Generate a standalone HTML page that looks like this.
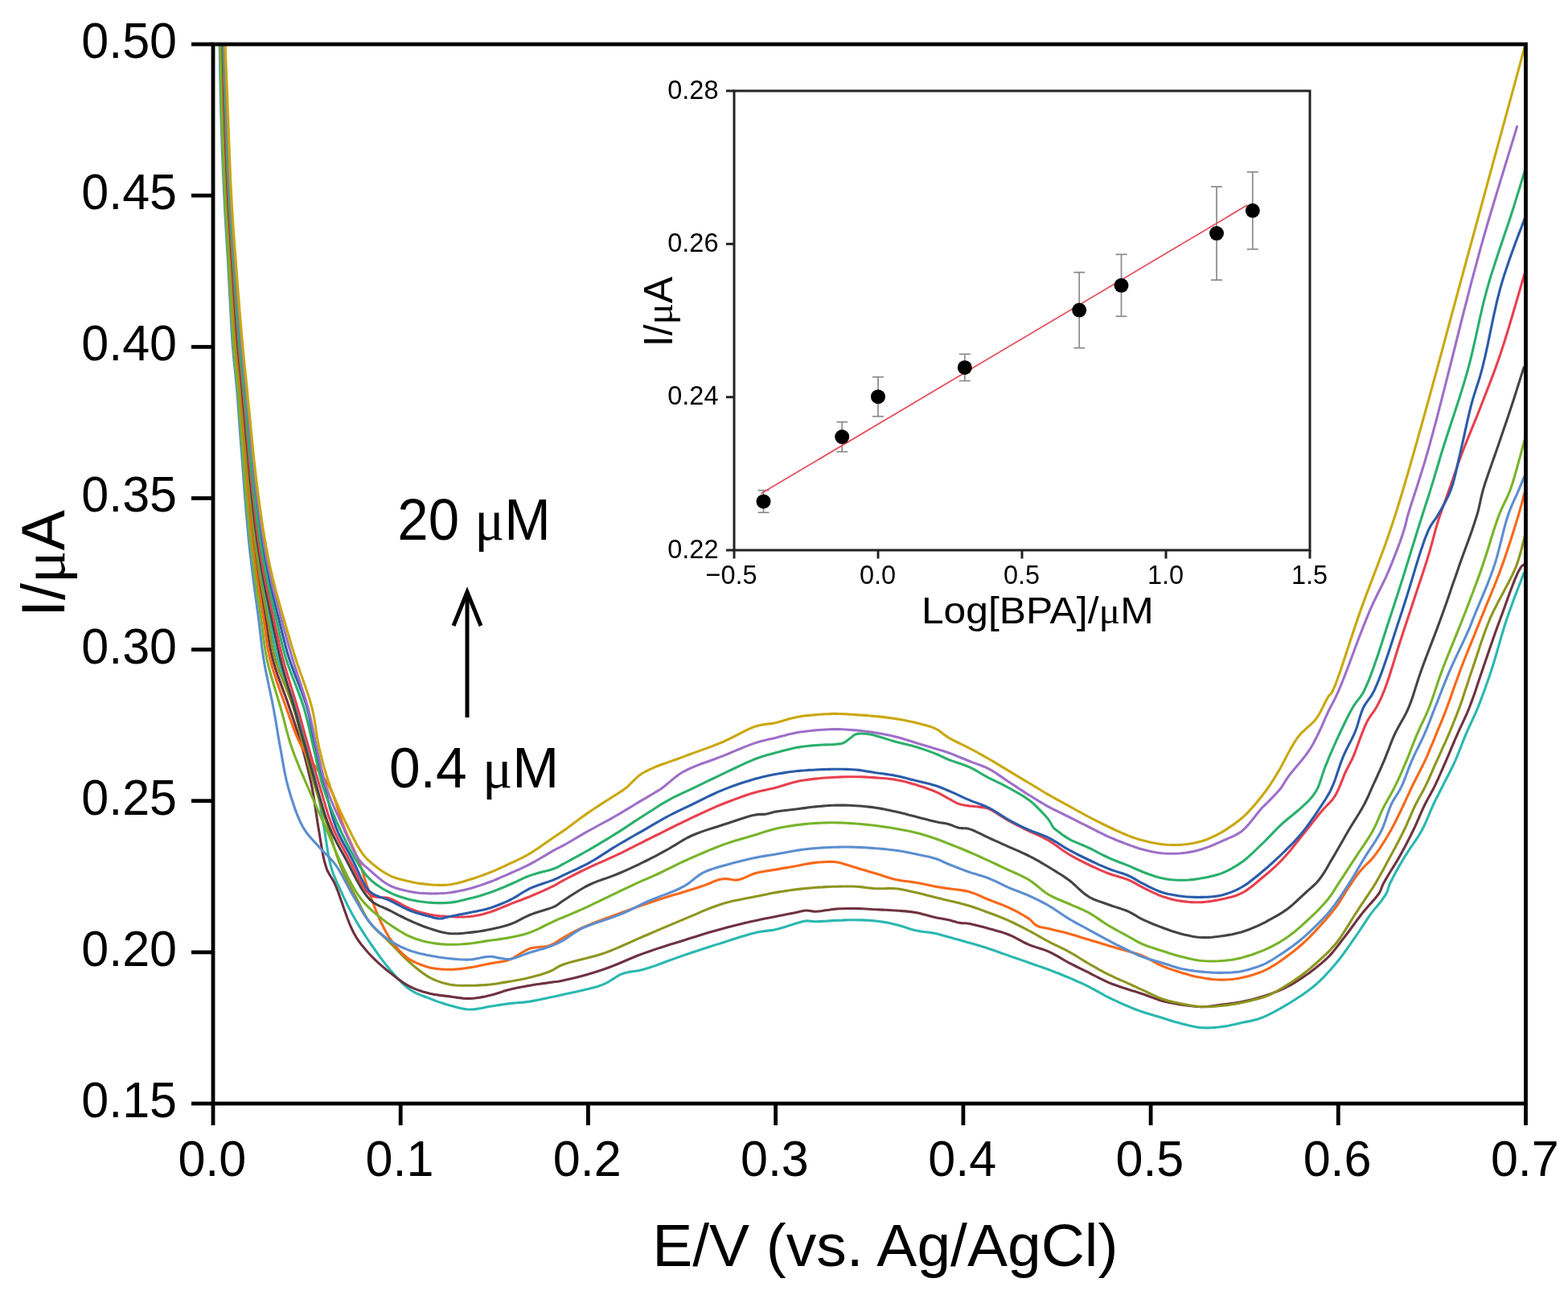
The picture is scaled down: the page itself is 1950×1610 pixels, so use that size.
<!DOCTYPE html>
<html><head><meta charset="utf-8"><title>BPA DPV</title>
<style>html,body{margin:0;padding:0;background:#fff;width:1950px;height:1610px;overflow:hidden}svg{display:block}</style>
</head><body>
<svg width="1950" height="1610" viewBox="0 0 1950 1610">
<rect x="0" y="0" width="1950" height="1610" fill="#ffffff"/>
<defs><clipPath id="pc"><rect x="265.0" y="55.0" width="1632.5" height="1317.0"/></clipPath></defs>
<g clip-path="url(#pc)" fill="none" stroke-width="3.1" stroke-linejoin="round" stroke-linecap="round">
<path stroke="#2AB8B0" d="M275.3 20.0L275.4 25.6 275.6 31.0 275.7 36.4 275.8 42.1 276.0 48.2 276.2 55.0 276.5 68.1 276.9 83.0 277.4 99.3 277.8 116.1 278.3 132.9 278.9 149.0 279.4 164.2 279.9 179.3 280.5 194.4 281.1 209.4 281.8 224.6 282.5 240.0 283.4 256.3 284.4 272.9 285.4 289.5 286.5 306.2 287.6 322.7 288.6 339.0 289.6 354.7 290.7 370.6 291.7 386.4 292.7 401.8 293.7 416.4 294.8 430.0 295.6 439.2 296.4 447.8 297.3 456.0 298.1 463.9 299.0 471.9 299.7 480.0 300.5 488.2 301.2 496.3 301.9 504.5 302.6 512.6 303.3 520.8 304.0 529.0 304.7 537.4 305.4 545.8 306.1 554.3 306.9 562.7 307.6 570.9 308.3 579.0 308.9 586.0 309.6 592.8 310.2 599.5 310.9 606.2 311.6 613.0 312.3 620.0 313.1 628.1 314.0 636.3 314.9 644.7 315.9 653.2 316.9 661.6 318.0 670.0 319.1 678.2 320.3 686.4 321.5 694.5 322.8 702.7 324.1 710.8 325.5 719.0 327.0 727.3 328.6 735.6 330.3 744.0 332.0 752.3 333.7 760.7 335.3 769.0 336.9 777.3 338.3 785.5 339.7 793.8 341.3 802.1 343.1 810.4 345.4 819.0 348.5 829.0 352.3 839.2 356.4 849.5 360.6 859.9 364.5 870.1 368.0 880.0 370.7 888.6 373.2 897.0 375.5 905.3 377.7 913.5 379.8 921.7 382.0 930.0 384.1 938.2 386.2 946.3 388.3 954.5 390.3 962.6 392.2 970.8 394.0 979.0 395.7 987.3 397.2 995.6 398.7 1004.0 400.1 1012.3 401.5 1020.7 403.0 1029.0 404.4 1037.5 405.7 1046.1 407.0 1054.7 408.4 1063.2 410.1 1071.2 412.0 1078.8 413.8 1084.5 415.9 1089.9 418.1 1095.0 420.3 1100.0 422.7 1105.0 425.0 1110.0 427.3 1115.1 429.7 1120.1 432.1 1125.1 434.6 1130.0 437.3 1135.0 440.0 1140.0 443.0 1145.3 446.2 1150.6 449.5 1155.9 452.9 1161.2 456.4 1166.5 460.0 1171.8 463.9 1177.5 467.9 1183.2 472.0 1189.0 476.2 1194.6 480.5 1200.1 484.8 1205.3 488.8 1209.9 492.8 1214.5 496.9 1218.9 501.1 1223.1 505.3 1226.9 509.7 1230.2 513.7 1232.7 517.7 1234.8 521.9 1236.6 526.1 1238.2 530.3 1239.8 534.5 1241.4 538.6 1243.0 542.7 1244.6 546.9 1246.1 551.1 1247.5 555.2 1248.8 559.4 1250.0 563.5 1251.1 567.6 1252.2 571.8 1253.3 575.9 1254.1 580.1 1254.7 584.2 1255.0 588.3 1254.9 592.5 1254.4 596.6 1253.7 600.8 1252.9 605.0 1252.0 609.1 1251.3 613.2 1250.7 617.4 1250.0 621.5 1249.4 625.6 1248.7 629.8 1248.1 633.9 1247.6 638.0 1247.1 642.2 1246.8 646.4 1246.4 650.5 1246.1 654.7 1245.6 658.8 1245.1 663.0 1244.4 667.3 1243.6 671.5 1242.7 675.7 1241.8 679.8 1240.9 683.6 1240.1 686.4 1239.5 689.0 1239.0 691.5 1238.4 694.0 1237.9 696.8 1237.2 700.0 1236.5 707.0 1235.0 715.3 1233.2 724.3 1231.2 733.5 1229.0 742.2 1226.7 749.7 1224.1 754.4 1221.9 758.7 1219.5 762.7 1216.9 766.5 1214.5 770.4 1212.2 774.5 1210.4 778.5 1209.2 782.4 1208.4 786.4 1207.8 790.5 1207.3 794.8 1206.6 799.4 1205.5 806.7 1203.3 814.8 1200.6 823.2 1197.5 831.9 1194.3 840.6 1191.1 849.1 1188.1 857.4 1185.3 865.8 1182.5 874.2 1179.8 882.6 1177.1 890.8 1174.4 898.8 1171.9 906.0 1169.6 913.2 1167.3 920.2 1165.0 927.1 1162.9 933.7 1161.0 940.0 1159.4 944.5 1158.5 948.7 1157.9 952.8 1157.4 956.8 1156.9 960.8 1156.4 964.8 1155.6 969.1 1154.5 973.4 1153.2 977.8 1151.9 982.0 1150.5 986.1 1149.2 989.7 1148.1 992.0 1147.4 994.1 1146.8 996.1 1146.2 998.0 1145.7 1000.0 1145.3 1002.0 1145.0 1004.0 1144.9 1006.0 1145.0 1008.0 1145.2 1010.0 1145.4 1012.2 1145.6 1014.5 1145.7 1018.2 1145.6 1022.2 1145.4 1026.4 1145.2 1030.8 1144.9 1035.2 1144.6 1039.4 1144.4 1043.5 1144.2 1047.7 1144.1 1051.8 1143.9 1055.9 1143.8 1060.1 1143.8 1064.2 1143.8 1068.4 1143.9 1072.5 1143.9 1076.7 1144.1 1080.8 1144.3 1085.0 1144.6 1089.1 1145.0 1093.2 1145.5 1097.4 1146.1 1101.5 1146.8 1105.7 1147.6 1109.8 1148.5 1113.9 1149.4 1118.1 1150.5 1122.2 1151.8 1126.3 1153.1 1130.5 1154.5 1134.6 1155.7 1138.8 1156.8 1143.0 1157.6 1147.2 1158.3 1151.5 1158.8 1155.7 1159.3 1159.8 1159.9 1163.6 1160.6 1166.5 1161.3 1169.2 1161.9 1171.8 1162.7 1174.4 1163.4 1177.1 1164.2 1180.0 1165.0 1183.8 1166.0 1187.9 1167.2 1192.1 1168.3 1196.3 1169.5 1200.6 1170.7 1204.8 1171.9 1209.0 1173.1 1213.1 1174.3 1217.3 1175.5 1221.4 1176.8 1225.6 1178.1 1229.7 1179.4 1233.8 1180.8 1238.0 1182.2 1242.1 1183.7 1246.2 1185.2 1250.4 1186.6 1254.5 1188.1 1258.6 1189.6 1262.8 1191.0 1267.0 1192.4 1271.1 1193.9 1275.3 1195.3 1279.4 1196.8 1283.5 1198.2 1287.7 1199.7 1291.8 1201.1 1295.9 1202.5 1300.1 1204.0 1304.2 1205.5 1308.4 1207.1 1312.5 1208.7 1316.7 1210.3 1320.8 1212.0 1325.0 1213.7 1329.1 1215.4 1333.3 1217.2 1337.4 1219.0 1341.5 1220.8 1345.7 1222.7 1349.8 1224.6 1353.9 1226.6 1358.1 1228.8 1362.2 1231.1 1366.3 1233.4 1370.5 1235.7 1374.6 1238.0 1378.8 1240.2 1383.0 1242.2 1387.2 1244.2 1391.5 1246.2 1395.7 1248.0 1399.7 1249.8 1403.6 1251.4 1406.5 1252.6 1409.2 1253.7 1411.8 1254.7 1414.4 1255.7 1417.1 1256.7 1420.0 1257.7 1423.8 1259.0 1427.9 1260.2 1432.1 1261.5 1436.3 1262.8 1440.6 1264.0 1444.8 1265.3 1448.9 1266.6 1453.1 1267.9 1457.2 1269.2 1461.4 1270.4 1465.5 1271.6 1469.7 1272.7 1473.8 1273.7 1477.9 1274.8 1482.1 1275.7 1486.2 1276.6 1490.3 1277.3 1494.5 1277.7 1498.6 1277.9 1502.8 1277.9 1506.9 1277.7 1511.1 1277.4 1515.3 1277.0 1519.4 1276.5 1523.6 1275.9 1527.7 1275.2 1531.8 1274.3 1535.9 1273.4 1540.1 1272.4 1544.2 1271.5 1548.3 1270.6 1552.3 1269.9 1556.3 1269.0 1560.4 1268.1 1564.6 1266.9 1569.1 1265.3 1575.9 1262.3 1583.4 1258.6 1591.2 1254.4 1598.9 1249.9 1606.2 1245.5 1612.8 1241.3 1617.4 1238.3 1621.7 1235.4 1625.7 1232.6 1629.6 1229.6 1633.5 1226.5 1637.4 1223.2 1641.6 1219.3 1645.8 1215.2 1649.9 1210.8 1654.0 1206.3 1658.0 1201.7 1662.0 1197.0 1666.3 1191.7 1670.6 1186.0 1674.8 1180.2 1678.9 1174.4 1682.8 1168.7 1686.6 1163.3 1689.5 1159.0 1692.3 1154.9 1694.9 1150.8 1697.5 1146.8 1700.2 1142.8 1703.0 1138.7 1706.4 1134.1 1710.2 1129.4 1714.1 1124.7 1717.8 1120.1 1721.0 1115.7 1723.6 1111.6 1724.8 1109.3 1725.6 1107.1 1726.2 1105.1 1726.8 1103.1 1727.6 1100.9 1728.6 1098.4 1730.9 1093.7 1733.6 1088.5 1736.7 1082.8 1739.9 1077.0 1743.3 1071.2 1746.6 1065.6 1750.1 1060.1 1753.7 1054.7 1757.5 1049.2 1761.2 1043.8 1764.8 1038.3 1768.0 1032.8 1770.8 1027.3 1773.4 1021.7 1775.8 1016.0 1778.1 1010.5 1780.4 1005.1 1782.7 1000.0 1784.5 996.2 1786.3 992.6 1788.0 989.2 1789.8 985.8 1791.6 982.2 1793.5 978.4 1796.1 973.3 1798.8 968.0 1801.7 962.5 1804.5 956.8 1807.3 951.2 1809.9 945.6 1812.2 940.2 1814.4 934.7 1816.5 929.2 1818.6 923.7 1820.8 918.3 1823.0 912.8 1825.4 907.4 1827.8 902.1 1830.3 896.8 1832.8 891.4 1835.3 885.8 1837.8 880.0 1840.6 872.9 1843.4 865.5 1846.2 857.9 1849.0 850.1 1851.8 842.0 1854.6 833.7 1857.8 823.5 1861.0 812.8 1864.1 801.8 1867.3 790.8 1870.6 779.8 1874.0 769.2 1877.4 759.5 1880.8 750.0 1884.3 740.6 1887.9 731.3 1891.5 722.0 1895.0 712.6"/>
<path stroke="#6E3240" d="M274.2 20.0L274.3 25.6 274.4 31.0 274.6 36.4 274.7 42.1 274.9 48.2 275.1 55.0 275.4 68.1 275.7 83.0 276.1 99.3 276.5 116.1 277.0 132.9 277.5 149.0 278.0 164.2 278.5 179.3 279.1 194.4 279.7 209.4 280.4 224.6 281.1 240.0 282.0 256.3 282.9 272.8 283.9 289.5 285.0 306.2 286.0 322.7 287.0 339.0 288.0 354.7 288.9 370.6 289.8 386.4 290.8 401.8 291.8 416.4 292.8 430.0 293.6 439.2 294.4 447.8 295.3 456.0 296.1 463.9 296.9 471.9 297.7 480.0 298.4 488.2 299.1 496.3 299.8 504.5 300.4 512.6 301.1 520.8 301.8 529.0 302.5 537.4 303.1 545.8 303.8 554.3 304.5 562.7 305.2 570.9 305.9 579.0 306.5 586.0 307.1 592.8 307.7 599.5 308.3 606.2 308.9 613.0 309.6 620.0 310.3 628.1 311.2 636.3 312.0 644.7 312.9 653.2 313.8 661.6 314.8 670.0 315.8 678.2 316.9 686.4 318.0 694.5 319.2 702.7 320.4 710.8 321.6 719.0 323.0 727.3 324.4 735.6 325.9 744.0 327.4 752.3 328.9 760.7 330.3 769.0 331.7 777.3 332.9 785.5 334.1 793.8 335.4 802.0 337.0 810.4 339.0 819.0 341.8 829.0 345.2 839.2 349.0 849.6 352.8 859.9 356.6 870.1 360.0 880.0 362.9 888.6 365.7 897.0 368.4 905.3 371.1 913.5 373.6 921.7 376.0 930.0 378.3 938.2 380.4 946.3 382.5 954.4 384.4 962.6 386.3 970.8 388.0 979.0 389.5 987.3 390.9 995.6 392.1 1004.0 393.4 1012.3 394.6 1020.7 396.0 1029.0 397.4 1037.6 398.8 1046.5 400.3 1055.3 401.9 1063.9 403.7 1071.8 405.8 1078.8 407.4 1082.8 409.2 1086.2 411.0 1089.3 413.0 1092.5 415.0 1095.9 417.0 1100.0 420.4 1108.5 424.0 1118.7 427.8 1129.7 431.7 1140.8 435.8 1151.2 440.0 1160.0 443.1 1165.3 446.3 1170.1 449.5 1174.5 452.9 1178.6 456.4 1182.7 460.0 1186.7 463.8 1190.7 467.9 1194.6 472.0 1198.4 476.3 1202.1 480.5 1205.7 484.8 1209.1 488.9 1212.3 492.9 1215.5 497.1 1218.6 501.2 1221.5 505.4 1224.1 509.7 1226.5 513.7 1228.4 517.8 1230.1 522.0 1231.6 526.1 1232.9 530.3 1234.1 534.5 1235.2 538.6 1236.1 542.8 1236.8 546.9 1237.4 551.1 1237.9 555.2 1238.4 559.4 1238.9 563.5 1239.5 567.7 1240.1 571.8 1240.6 575.9 1241.1 580.1 1241.4 584.2 1241.4 588.4 1241.2 592.5 1240.7 596.7 1240.1 600.8 1239.4 605.0 1238.5 609.1 1237.6 613.3 1236.5 617.4 1235.3 621.5 1234.0 625.6 1232.6 629.8 1231.3 633.9 1230.2 638.0 1229.2 642.2 1228.3 646.3 1227.5 650.5 1226.7 654.6 1225.9 658.8 1225.2 663.0 1224.5 667.3 1223.8 671.5 1223.2 675.7 1222.6 679.8 1222.1 683.6 1221.5 686.4 1221.1 689.0 1220.8 691.5 1220.5 694.0 1220.2 696.8 1219.7 700.0 1219.1 706.8 1217.6 714.6 1215.7 723.3 1213.4 732.2 1210.9 741.2 1208.2 749.7 1205.5 758.0 1202.5 766.3 1199.2 774.6 1195.7 782.8 1192.2 791.1 1188.8 799.4 1185.6 807.6 1182.7 815.9 1179.9 824.2 1177.2 832.5 1174.6 840.8 1172.0 849.1 1169.4 857.4 1166.8 865.8 1164.2 874.2 1161.6 882.5 1159.1 890.8 1156.7 898.8 1154.5 906.0 1152.6 913.2 1150.7 920.3 1149.0 927.2 1147.3 933.8 1145.8 940.0 1144.4 944.5 1143.4 948.7 1142.5 952.8 1141.7 956.8 1141.0 960.7 1140.2 964.8 1139.4 969.0 1138.6 973.4 1137.7 977.8 1136.8 982.0 1136.0 986.1 1135.2 989.7 1134.5 992.0 1134.0 994.1 1133.5 996.1 1133.0 998.0 1132.5 1000.0 1132.2 1002.0 1132.0 1004.0 1132.0 1006.0 1132.2 1008.0 1132.5 1010.0 1132.9 1012.2 1133.1 1014.5 1133.2 1018.2 1133.0 1022.2 1132.5 1026.4 1131.8 1030.8 1131.2 1035.1 1130.5 1039.4 1130.1 1043.5 1129.8 1047.7 1129.7 1051.8 1129.5 1055.9 1129.5 1060.1 1129.5 1064.2 1129.5 1068.3 1129.6 1072.5 1129.8 1076.7 1130.0 1080.8 1130.2 1085.0 1130.5 1089.1 1130.7 1093.2 1130.9 1097.4 1131.1 1101.5 1131.3 1105.6 1131.5 1109.8 1131.7 1113.9 1132.0 1118.1 1132.3 1122.2 1132.6 1126.4 1132.9 1130.5 1133.4 1134.7 1133.9 1138.8 1134.5 1143.0 1135.3 1147.3 1136.4 1151.5 1137.5 1155.7 1138.7 1159.8 1139.8 1163.6 1140.7 1166.5 1141.3 1169.4 1141.8 1172.2 1142.3 1174.8 1142.8 1177.4 1143.3 1180.0 1143.8 1182.2 1144.3 1184.3 1144.9 1186.3 1145.5 1188.3 1146.1 1190.3 1146.7 1192.4 1147.1 1194.4 1147.4 1196.4 1147.6 1198.3 1147.7 1200.4 1147.8 1202.5 1148.0 1204.8 1148.3 1208.5 1149.0 1212.5 1149.9 1216.7 1151.0 1221.1 1152.1 1225.5 1153.3 1229.7 1154.5 1233.9 1155.6 1238.0 1156.7 1242.2 1157.9 1246.3 1159.1 1250.4 1160.5 1254.5 1162.0 1258.7 1163.8 1262.8 1165.9 1267.0 1168.1 1271.1 1170.4 1275.2 1172.5 1279.4 1174.4 1283.5 1176.0 1287.7 1177.4 1291.8 1178.7 1296.0 1180.0 1300.1 1181.4 1304.2 1183.1 1308.4 1185.1 1312.6 1187.4 1316.7 1189.7 1320.8 1192.1 1324.9 1194.5 1329.1 1196.8 1333.2 1198.9 1337.3 1201.0 1341.5 1203.1 1345.6 1205.1 1349.8 1207.1 1353.9 1209.2 1358.0 1211.3 1362.2 1213.5 1366.3 1215.6 1370.5 1217.7 1374.6 1219.7 1378.8 1221.6 1383.0 1223.3 1387.2 1224.8 1391.5 1226.3 1395.7 1227.7 1399.7 1229.0 1403.6 1230.3 1406.5 1231.2 1409.2 1232.1 1411.8 1232.8 1414.4 1233.6 1417.1 1234.5 1420.0 1235.4 1423.8 1236.8 1427.9 1238.3 1432.1 1239.9 1436.3 1241.4 1440.6 1242.9 1444.8 1244.2 1448.9 1245.3 1453.1 1246.2 1457.2 1247.0 1461.4 1247.8 1465.5 1248.5 1469.7 1249.1 1473.8 1249.7 1478.0 1250.3 1482.1 1250.8 1486.2 1251.2 1490.4 1251.5 1494.5 1251.6 1498.6 1251.5 1502.8 1251.2 1507.0 1250.7 1511.1 1250.2 1515.3 1249.6 1519.4 1249.1 1523.5 1248.6 1527.7 1248.0 1531.8 1247.5 1536.0 1246.9 1540.1 1246.2 1544.2 1245.4 1548.3 1244.6 1552.4 1243.7 1556.4 1242.8 1560.5 1241.7 1564.7 1240.6 1569.1 1239.2 1574.7 1237.4 1580.5 1235.4 1586.4 1233.2 1592.4 1230.7 1598.5 1228.0 1604.6 1224.8 1612.2 1220.3 1620.2 1215.1 1628.3 1209.4 1636.1 1203.5 1643.3 1197.6 1649.7 1192.0 1653.8 1187.9 1657.4 1183.9 1660.6 1179.9 1663.7 1175.9 1666.9 1171.7 1670.2 1167.4 1674.2 1162.2 1678.3 1156.7 1682.5 1151.0 1686.6 1145.3 1690.8 1139.8 1694.8 1134.6 1698.5 1130.2 1702.3 1125.8 1706.1 1121.6 1709.7 1117.5 1712.9 1113.6 1715.4 1110.0 1716.5 1108.0 1717.3 1106.1 1718.0 1104.3 1718.6 1102.5 1719.4 1100.6 1720.4 1098.4 1722.9 1093.9 1726.0 1088.7 1729.5 1083.0 1733.2 1077.2 1736.8 1071.3 1740.1 1065.6 1743.1 1060.2 1746.1 1054.7 1749.0 1049.3 1751.8 1043.8 1754.6 1038.3 1757.3 1032.8 1759.9 1027.3 1762.4 1021.6 1764.9 1016.0 1767.3 1010.4 1769.7 1005.1 1772.1 1000.0 1774.1 996.2 1776.0 992.6 1777.9 989.2 1779.8 985.8 1781.7 982.2 1783.7 978.4 1786.1 973.4 1788.6 968.0 1791.0 962.5 1793.5 956.8 1796.0 951.2 1798.4 945.6 1800.8 940.1 1803.1 934.7 1805.4 929.2 1807.7 923.7 1810.0 918.3 1812.4 912.8 1814.8 907.4 1817.3 902.1 1819.8 896.8 1822.3 891.4 1824.8 885.8 1827.2 880.0 1829.9 872.9 1832.6 865.5 1835.2 857.9 1837.8 850.0 1840.5 842.0 1843.3 833.7 1846.8 823.6 1850.4 813.0 1854.2 802.1 1858.0 791.1 1861.9 780.0 1865.9 769.2 1870.2 757.5 1874.8 744.6 1879.5 731.8 1884.0 720.1 1888.2 710.7 1891.8 704.6 1892.7 703.6 1893.6 702.9 1894.5 702.3 1895.3 701.9 1896.1 701.5 1897.0 701.0"/>
<path stroke="#8E9620" d="M274.7 20.0L274.9 25.6 275.0 31.0 275.1 36.4 275.3 42.1 275.4 48.2 275.6 55.0 276.0 68.1 276.3 83.0 276.7 99.3 277.2 116.1 277.7 132.9 278.2 149.0 278.7 164.2 279.2 179.3 279.8 194.4 280.4 209.4 281.1 224.6 281.8 240.0 282.7 256.3 283.6 272.8 284.7 289.5 285.7 306.2 286.8 322.7 287.8 339.0 288.8 354.7 289.8 370.6 290.8 386.4 291.7 401.8 292.8 416.4 293.8 430.0 294.6 439.2 295.4 447.8 296.3 456.0 297.1 463.9 298.0 471.9 298.7 480.0 299.5 488.2 300.2 496.3 300.8 504.5 301.5 512.6 302.2 520.8 302.9 529.0 303.6 537.4 304.3 545.8 305.0 554.3 305.7 562.7 306.4 570.9 307.1 579.0 307.7 586.0 308.3 592.8 308.9 599.5 309.6 606.2 310.2 613.0 310.9 620.0 311.7 628.1 312.6 636.3 313.5 644.7 314.4 653.2 315.4 661.6 316.4 670.0 317.5 678.2 318.6 686.4 319.8 694.5 321.0 702.7 322.3 710.8 323.6 719.0 325.0 727.3 326.5 735.6 328.1 744.0 329.7 752.3 331.3 760.7 332.8 769.0 334.3 777.3 335.6 785.5 336.9 793.8 338.3 802.1 340.0 810.5 342.2 819.0 345.3 829.0 349.1 839.2 353.3 849.5 357.6 859.9 361.5 870.1 365.0 880.0 367.6 888.6 369.8 897.0 371.9 905.3 373.8 913.5 375.8 921.8 378.0 930.0 380.3 938.2 382.5 946.4 384.8 954.5 387.2 962.7 389.6 970.8 392.0 979.0 394.6 987.3 397.2 995.6 399.8 1004.0 402.5 1012.3 405.3 1020.6 408.0 1029.0 410.7 1037.6 413.4 1046.2 416.1 1054.9 418.9 1063.5 421.9 1071.9 425.0 1080.0 428.1 1087.1 431.4 1094.1 434.9 1100.9 438.3 1107.5 441.7 1113.9 445.0 1120.0 447.5 1124.9 449.8 1129.6 452.1 1134.1 454.5 1138.5 457.1 1142.8 460.0 1147.0 463.6 1151.4 467.6 1155.6 471.8 1159.7 476.2 1163.7 480.6 1167.7 484.8 1171.8 488.9 1176.0 493.0 1180.3 497.1 1184.5 501.3 1188.7 505.5 1192.8 509.7 1196.6 513.7 1200.1 517.8 1203.5 521.9 1206.8 526.0 1209.9 530.2 1212.8 534.5 1215.3 538.5 1217.3 542.6 1219.1 546.8 1220.6 551.0 1222.0 555.2 1223.1 559.4 1224.0 563.5 1224.6 567.6 1225.0 571.8 1225.2 575.9 1225.2 580.1 1225.2 584.2 1225.2 588.3 1225.2 592.5 1225.1 596.7 1224.9 600.8 1224.7 605.0 1224.4 609.1 1224.0 613.2 1223.5 617.4 1223.0 621.5 1222.3 625.6 1221.6 629.8 1220.9 633.9 1220.2 638.1 1219.5 642.2 1218.7 646.4 1218.0 650.5 1217.2 654.7 1216.3 658.8 1215.3 663.0 1214.2 667.3 1213.1 671.6 1211.9 675.8 1210.6 679.8 1209.2 683.6 1207.8 686.5 1206.5 689.0 1205.1 691.4 1203.7 693.9 1202.2 696.7 1200.7 700.0 1199.3 706.7 1197.1 714.5 1194.9 723.2 1192.8 732.2 1190.6 741.2 1188.3 749.7 1185.6 758.1 1182.5 766.4 1179.1 774.6 1175.5 782.9 1171.8 791.1 1168.1 799.4 1164.5 807.7 1161.0 816.0 1157.4 824.2 1153.9 832.5 1150.4 840.8 1146.9 849.1 1143.4 857.4 1139.9 865.8 1136.3 874.2 1132.7 882.5 1129.3 890.7 1126.2 898.8 1123.5 905.9 1121.5 913.1 1119.8 920.2 1118.4 927.1 1117.1 933.8 1115.8 940.0 1114.6 944.5 1113.7 948.7 1112.8 952.8 1111.9 956.8 1111.1 960.7 1110.3 964.8 1109.6 968.9 1108.9 973.1 1108.2 977.2 1107.6 981.4 1107.0 985.5 1106.4 989.7 1105.9 993.8 1105.4 998.0 1104.9 1002.1 1104.5 1006.2 1104.1 1010.4 1103.7 1014.5 1103.4 1018.6 1103.1 1022.8 1102.9 1026.9 1102.6 1031.1 1102.5 1035.3 1102.3 1039.4 1102.2 1043.5 1102.1 1047.7 1102.0 1051.8 1102.0 1055.9 1102.0 1060.1 1102.0 1064.2 1102.2 1068.4 1102.5 1072.5 1102.9 1076.6 1103.5 1080.8 1104.0 1084.9 1104.4 1089.1 1104.7 1093.2 1104.8 1097.4 1104.7 1101.5 1104.6 1105.6 1104.4 1109.8 1104.5 1113.9 1104.7 1118.1 1105.2 1122.2 1105.9 1126.4 1106.8 1130.5 1107.7 1134.7 1108.7 1138.8 1109.6 1143.0 1110.6 1147.3 1111.6 1151.5 1112.7 1155.7 1113.8 1159.8 1114.8 1163.6 1115.8 1166.5 1116.5 1169.2 1117.1 1171.8 1117.7 1174.4 1118.4 1177.1 1119.0 1180.0 1119.7 1183.8 1120.6 1187.9 1121.6 1192.1 1122.6 1196.4 1123.7 1200.6 1124.8 1204.8 1126.0 1209.0 1127.3 1213.1 1128.7 1217.3 1130.1 1221.4 1131.6 1225.6 1133.2 1229.7 1134.7 1233.9 1136.3 1238.0 1137.8 1242.1 1139.4 1246.3 1141.1 1250.4 1142.8 1254.5 1144.6 1258.7 1146.5 1262.8 1148.5 1267.0 1150.6 1271.1 1152.7 1275.3 1154.8 1279.4 1157.0 1283.5 1159.2 1287.7 1161.5 1291.8 1163.8 1295.9 1166.2 1300.1 1168.5 1304.2 1170.7 1308.3 1172.8 1312.5 1174.8 1316.7 1176.8 1320.8 1178.8 1325.0 1180.9 1329.1 1183.1 1333.3 1185.5 1337.4 1187.9 1341.5 1190.5 1345.6 1193.0 1349.8 1195.6 1353.9 1198.0 1358.0 1200.4 1362.2 1202.7 1366.3 1205.1 1370.5 1207.3 1374.6 1209.6 1378.8 1211.7 1383.0 1213.7 1387.2 1215.7 1391.5 1217.6 1395.7 1219.4 1399.8 1221.2 1403.6 1222.9 1406.5 1224.2 1409.2 1225.5 1411.8 1226.6 1414.4 1227.8 1417.1 1229.1 1420.0 1230.4 1423.8 1232.2 1427.9 1234.2 1432.0 1236.2 1436.3 1238.2 1440.6 1240.1 1444.8 1241.7 1448.9 1243.0 1453.0 1244.2 1457.2 1245.2 1461.4 1246.2 1465.5 1247.1 1469.7 1247.9 1473.8 1248.7 1477.9 1249.5 1482.1 1250.2 1486.2 1250.8 1490.4 1251.3 1494.5 1251.6 1498.6 1251.7 1502.8 1251.7 1507.0 1251.5 1511.1 1251.2 1515.3 1250.8 1519.4 1250.4 1523.5 1249.9 1527.7 1249.4 1531.8 1248.8 1536.0 1248.1 1540.1 1247.4 1544.2 1246.6 1548.5 1245.7 1552.9 1244.7 1557.3 1243.6 1561.6 1242.5 1565.6 1241.5 1569.1 1240.4 1571.1 1239.8 1572.9 1239.2 1574.5 1238.6 1576.2 1238.0 1577.9 1237.3 1580.0 1236.3 1584.6 1234.0 1589.9 1231.0 1595.7 1227.6 1601.7 1223.9 1607.5 1220.2 1612.8 1216.6 1617.2 1213.5 1621.4 1210.3 1625.5 1207.1 1629.5 1203.9 1633.4 1200.5 1637.4 1197.0 1641.6 1193.2 1645.8 1189.4 1650.0 1185.4 1654.1 1181.3 1658.1 1176.9 1662.0 1172.3 1666.4 1166.5 1670.6 1160.2 1674.8 1153.6 1678.9 1146.9 1682.8 1140.5 1686.6 1134.6 1689.6 1130.1 1692.5 1125.7 1695.4 1121.4 1698.1 1117.3 1700.7 1113.5 1703.0 1110.0 1704.4 1107.9 1705.6 1106.1 1706.8 1104.3 1707.9 1102.6 1709.1 1100.6 1710.5 1098.4 1713.1 1093.9 1716.0 1088.7 1719.2 1083.1 1722.4 1077.2 1725.5 1071.3 1728.6 1065.6 1731.5 1060.1 1734.5 1054.7 1737.4 1049.2 1740.3 1043.8 1743.1 1038.3 1745.8 1032.8 1748.4 1027.3 1750.9 1021.6 1753.4 1016.0 1755.8 1010.4 1758.2 1005.1 1760.6 1000.0 1762.6 996.2 1764.5 992.6 1766.4 989.2 1768.3 985.8 1770.2 982.2 1772.2 978.4 1774.6 973.4 1777.1 968.0 1779.6 962.5 1782.0 956.8 1784.5 951.2 1787.0 945.6 1789.5 940.1 1792.0 934.7 1794.4 929.2 1796.9 923.8 1799.3 918.3 1801.7 912.8 1804.0 907.4 1806.2 902.1 1808.3 896.8 1810.5 891.4 1812.6 885.8 1814.8 880.0 1817.4 872.9 1819.9 865.5 1822.4 857.8 1825.0 850.0 1827.6 841.9 1830.4 833.7 1833.8 823.5 1837.3 812.9 1840.9 802.0 1844.7 791.0 1848.7 780.0 1853.0 769.2 1858.1 758.2 1863.8 747.1 1869.8 736.0 1875.6 725.1 1880.9 714.6 1885.3 704.6 1887.9 697.4 1890.0 690.5 1891.9 683.8 1893.5 677.3 1895.2 670.7 1897.0 664.0"/>
<path stroke="#F86818" d="M273.6 20.0L273.7 25.6 273.9 31.0 274.0 36.4 274.2 42.1 274.3 48.2 274.5 55.0 274.8 68.1 275.1 83.0 275.5 99.3 275.9 116.1 276.3 132.9 276.8 149.0 277.3 164.2 277.8 179.3 278.4 194.4 279.0 209.4 279.6 224.6 280.4 240.0 281.2 256.3 282.2 272.8 283.2 289.5 284.2 306.2 285.2 322.7 286.2 339.0 287.1 354.7 288.0 370.6 288.9 386.4 289.9 401.8 290.8 416.4 291.8 430.0 292.6 439.2 293.4 447.8 294.3 456.0 295.1 463.9 295.9 471.9 296.7 480.0 297.4 488.2 298.1 496.3 298.7 504.5 299.4 512.6 300.0 520.8 300.7 529.0 301.3 537.4 302.0 545.8 302.7 554.3 303.4 562.7 304.0 570.9 304.7 579.0 305.3 586.0 305.8 592.8 306.4 599.5 307.0 606.2 307.6 613.0 308.2 620.0 308.9 628.1 309.7 636.3 310.5 644.7 311.4 653.2 312.3 661.6 313.2 670.0 314.2 678.2 315.2 686.4 316.2 694.5 317.3 702.7 318.5 710.8 319.7 719.0 320.9 727.3 322.3 735.6 323.7 744.0 325.1 752.3 326.5 760.7 327.8 769.0 329.1 777.3 330.2 785.5 331.2 793.8 332.4 802.0 333.9 810.4 335.8 819.0 338.4 829.0 341.6 839.2 345.0 849.6 348.7 860.0 352.4 870.2 356.0 880.0 359.1 888.7 362.1 897.2 365.2 905.6 368.4 913.8 372.0 921.9 376.0 930.0 381.1 938.3 386.9 946.5 393.1 954.5 399.3 962.5 405.1 970.6 410.0 979.0 413.8 987.2 417.0 995.6 419.8 1004.1 422.4 1012.6 425.1 1020.9 428.0 1029.0 431.0 1036.1 434.1 1043.1 437.2 1049.9 440.3 1056.7 443.3 1063.3 446.0 1070.0 448.2 1076.1 450.3 1082.2 452.2 1088.3 454.1 1094.2 456.0 1100.2 458.0 1106.0 459.9 1111.5 461.9 1117.0 463.9 1122.5 465.9 1127.8 467.9 1133.0 470.0 1138.0 471.9 1142.3 473.8 1146.5 475.8 1150.5 477.8 1154.5 479.8 1158.3 482.0 1162.0 484.0 1165.3 486.1 1168.4 488.2 1171.5 490.4 1174.5 492.7 1177.3 495.0 1180.0 497.2 1182.4 499.5 1184.7 501.8 1186.9 504.3 1189.0 506.9 1191.0 509.7 1192.9 513.3 1195.0 517.3 1196.9 521.5 1198.7 525.9 1200.3 530.2 1201.7 534.5 1202.9 538.6 1203.8 542.7 1204.4 546.9 1204.8 551.1 1205.1 555.2 1205.3 559.4 1205.3 563.5 1205.2 567.7 1204.9 571.8 1204.6 575.9 1204.1 580.1 1203.5 584.2 1202.9 588.4 1202.2 592.5 1201.4 596.7 1200.6 600.8 1199.7 605.0 1198.8 609.1 1197.9 613.3 1197.2 617.4 1196.5 621.6 1195.9 625.7 1195.2 629.8 1194.3 633.9 1193.0 638.1 1191.1 642.2 1188.7 646.3 1186.1 650.4 1183.5 654.6 1181.1 658.8 1179.3 662.9 1178.2 667.2 1177.7 671.5 1177.3 675.8 1177.0 679.8 1176.5 683.6 1175.5 686.6 1174.3 689.3 1172.8 691.9 1171.2 694.5 1169.4 697.2 1167.7 700.0 1166.0 703.5 1164.1 707.0 1162.1 710.6 1160.1 714.3 1158.1 718.4 1156.1 722.8 1154.0 729.9 1150.9 737.7 1147.8 746.2 1144.5 754.9 1141.3 763.6 1138.1 772.0 1135.0 780.3 1132.0 788.9 1128.9 797.4 1125.9 805.8 1123.0 813.8 1120.3 821.3 1117.8 826.5 1116.1 831.5 1114.6 836.3 1113.1 840.9 1111.8 845.5 1110.4 850.0 1109.0 854.1 1107.7 858.2 1106.5 862.1 1105.2 866.1 1104.0 870.0 1102.7 874.0 1101.4 878.2 1099.9 882.4 1098.2 886.6 1096.4 890.7 1094.8 894.8 1093.5 898.8 1092.7 902.0 1092.5 905.1 1092.8 908.2 1093.3 911.2 1093.8 914.3 1094.1 917.4 1093.9 921.1 1093.1 924.8 1091.7 928.5 1090.1 932.3 1088.4 936.1 1086.8 940.0 1085.5 944.0 1084.5 948.1 1083.7 952.3 1083.0 956.5 1082.4 960.6 1081.8 964.8 1081.1 968.9 1080.4 973.1 1079.6 977.2 1078.9 981.4 1078.2 985.6 1077.4 989.7 1076.7 993.8 1075.9 998.0 1075.1 1002.1 1074.3 1006.2 1073.6 1010.4 1072.9 1014.5 1072.4 1018.7 1072.0 1023.1 1071.7 1027.5 1071.5 1031.7 1071.4 1035.8 1071.4 1039.4 1071.7 1041.7 1072.0 1043.9 1072.5 1045.9 1073.0 1047.8 1073.6 1049.8 1074.2 1051.8 1074.8 1053.8 1075.4 1055.8 1076.0 1057.7 1076.6 1059.8 1077.2 1061.9 1077.9 1064.2 1078.6 1067.9 1079.7 1071.9 1080.9 1076.1 1082.1 1080.5 1083.4 1084.9 1084.7 1089.1 1086.0 1093.2 1087.3 1097.4 1088.6 1101.5 1090.0 1105.6 1091.3 1109.7 1092.5 1113.9 1093.5 1118.0 1094.3 1122.2 1095.0 1126.3 1095.5 1130.5 1096.0 1134.7 1096.6 1138.8 1097.2 1143.0 1098.0 1147.3 1098.8 1151.5 1099.7 1155.7 1100.6 1159.8 1101.5 1163.6 1102.2 1166.5 1102.7 1169.2 1103.1 1171.8 1103.6 1174.4 1103.9 1177.1 1104.4 1180.0 1104.8 1183.8 1105.3 1187.9 1105.8 1192.1 1106.3 1196.4 1106.9 1200.6 1107.6 1204.8 1108.6 1209.0 1109.9 1213.2 1111.4 1217.3 1113.2 1221.4 1115.0 1225.6 1116.8 1229.7 1118.5 1233.8 1120.1 1238.0 1121.7 1242.1 1123.2 1246.3 1124.9 1250.4 1126.6 1254.5 1128.4 1258.8 1130.5 1263.3 1132.7 1267.8 1135.1 1272.0 1137.5 1276.0 1139.8 1279.4 1142.1 1281.3 1143.6 1283.0 1145.2 1284.5 1146.8 1285.9 1148.3 1287.5 1149.6 1289.3 1150.8 1291.5 1151.7 1293.8 1152.4 1296.2 1153.0 1298.8 1153.4 1301.4 1153.9 1304.2 1154.5 1308.0 1155.4 1312.0 1156.4 1316.3 1157.4 1320.6 1158.5 1324.9 1159.6 1329.1 1160.7 1333.2 1161.9 1337.4 1163.1 1341.5 1164.4 1345.6 1165.7 1349.8 1166.9 1353.9 1168.2 1358.1 1169.5 1362.5 1170.8 1366.9 1172.1 1371.1 1173.4 1375.1 1174.6 1378.8 1175.7 1381.1 1176.4 1383.1 1177.0 1384.9 1177.5 1386.8 1178.1 1388.9 1178.7 1391.2 1179.4 1395.3 1180.6 1400.0 1181.8 1405.0 1183.2 1410.2 1184.7 1415.2 1186.3 1420.0 1188.0 1424.3 1189.9 1428.4 1192.1 1432.5 1194.3 1436.6 1196.6 1440.7 1198.8 1444.8 1200.7 1448.9 1202.4 1453.0 1204.0 1457.2 1205.4 1461.4 1206.8 1465.5 1208.1 1469.7 1209.4 1473.8 1210.6 1477.9 1211.8 1482.1 1212.9 1486.2 1213.9 1490.3 1214.8 1494.5 1215.6 1498.6 1216.3 1502.8 1216.9 1506.9 1217.4 1511.1 1217.8 1515.2 1218.0 1519.4 1218.1 1523.5 1218.0 1527.7 1217.8 1531.8 1217.5 1536.0 1217.0 1540.1 1216.4 1544.2 1215.6 1548.5 1214.6 1552.9 1213.5 1557.3 1212.2 1561.6 1210.8 1565.6 1209.4 1569.1 1208.1 1571.2 1207.2 1573.0 1206.4 1574.7 1205.6 1576.4 1204.7 1578.1 1203.8 1580.0 1202.7 1582.5 1201.2 1585.2 1199.6 1587.9 1197.9 1590.6 1196.0 1593.5 1194.1 1596.4 1192.0 1600.3 1189.1 1604.4 1186.0 1608.7 1182.7 1613.0 1179.2 1617.1 1175.7 1621.0 1172.3 1624.4 1169.2 1627.6 1166.1 1630.7 1162.9 1633.8 1159.7 1636.8 1156.4 1640.0 1153.0 1643.7 1148.9 1647.5 1144.7 1651.3 1140.3 1655.0 1135.9 1658.6 1131.4 1662.0 1127.0 1664.9 1122.8 1667.7 1118.5 1670.4 1114.2 1673.0 1109.9 1675.5 1105.8 1678.0 1102.0 1680.0 1099.1 1681.9 1096.2 1683.8 1093.4 1685.6 1090.8 1687.4 1088.3 1689.2 1086.0 1690.5 1084.3 1691.8 1082.8 1693.0 1081.4 1694.3 1079.9 1695.6 1078.5 1697.0 1077.0 1698.7 1075.2 1700.5 1073.6 1702.3 1071.8 1704.2 1070.0 1706.1 1067.9 1708.1 1065.6 1711.4 1061.2 1715.0 1056.1 1718.7 1050.4 1722.5 1044.5 1726.1 1038.5 1729.4 1032.8 1732.4 1027.3 1735.3 1021.7 1738.1 1016.0 1740.8 1010.5 1743.4 1005.1 1745.8 1000.0 1747.6 996.2 1749.2 992.6 1750.8 989.2 1752.4 985.8 1754.0 982.2 1755.8 978.4 1758.3 973.3 1761.0 968.0 1763.9 962.4 1766.7 956.8 1769.5 951.2 1772.2 945.6 1774.7 940.2 1777.0 934.7 1779.3 929.2 1781.6 923.8 1783.8 918.3 1786.1 912.8 1788.3 907.4 1790.5 902.1 1792.7 896.8 1794.9 891.4 1797.1 885.8 1799.3 880.0 1801.9 872.8 1804.6 865.4 1807.2 857.8 1810.0 850.0 1812.9 841.9 1815.9 833.7 1819.8 823.5 1824.0 813.0 1828.4 802.1 1832.9 791.1 1837.3 780.1 1841.7 769.2 1846.1 758.4 1850.5 747.7 1854.9 737.0 1859.2 726.2 1863.5 715.4 1867.5 704.6 1871.4 693.6 1875.2 682.3 1878.9 671.0 1882.4 660.0 1885.6 649.6 1888.5 640.0 1890.3 633.9 1891.9 628.1 1893.4 622.7 1894.7 617.5 1896.1 612.2 1897.6 606.8"/>
<path stroke="#5C8ED0" d="M272.2 20.0L272.3 25.6 272.5 31.0 272.6 36.4 272.8 42.1 272.9 48.2 273.1 55.0 273.4 68.1 273.6 83.0 273.9 99.3 274.2 116.1 274.6 132.9 275.0 149.0 275.5 164.2 276.0 179.3 276.6 194.4 277.2 209.4 277.9 224.6 278.6 240.0 279.4 256.3 280.3 272.8 281.3 289.5 282.3 306.2 283.3 322.7 284.2 339.0 285.0 354.7 285.9 370.6 286.7 386.4 287.5 401.8 288.4 416.4 289.3 430.0 290.1 439.2 290.9 447.8 291.8 456.0 292.6 463.9 293.4 471.9 294.2 480.0 294.9 488.2 295.5 496.3 296.1 504.5 296.7 512.6 297.3 520.8 297.9 529.0 298.5 537.4 299.2 545.8 299.8 554.3 300.5 562.7 301.1 570.9 301.7 579.0 302.2 586.0 302.7 592.8 303.2 599.5 303.7 606.2 304.2 613.0 304.8 620.0 305.5 628.1 306.1 636.3 306.9 644.7 307.6 653.2 308.4 661.6 309.2 670.0 310.0 678.2 310.9 686.4 311.9 694.5 312.8 702.7 313.8 710.8 314.8 719.0 315.9 727.3 317.0 735.6 318.2 744.0 319.3 752.3 320.5 760.7 321.6 769.0 322.6 777.3 323.5 785.5 324.5 793.7 325.4 802.0 326.5 810.4 327.8 819.0 329.5 828.9 331.6 839.1 333.7 849.5 335.9 859.9 338.1 870.1 340.0 880.0 341.5 888.6 343.0 896.9 344.4 905.2 345.7 913.3 347.1 921.5 348.6 929.7 350.1 938.0 351.5 946.3 353.0 954.6 354.6 962.9 356.4 971.2 358.6 979.4 361.1 988.0 363.9 996.8 366.8 1005.6 370.1 1014.1 373.5 1022.0 377.2 1029.1 380.3 1033.9 383.6 1038.3 387.0 1042.3 390.5 1046.1 394.0 1049.9 397.5 1053.7 400.7 1057.2 404.0 1060.5 407.3 1063.7 410.5 1067.0 413.7 1070.6 416.9 1074.6 420.9 1080.5 424.8 1087.1 428.6 1094.2 432.4 1101.3 436.2 1108.4 440.0 1115.0 443.3 1120.7 446.5 1126.3 449.6 1131.8 452.9 1137.1 456.3 1142.2 460.0 1147.0 463.8 1151.3 467.7 1155.3 471.9 1159.2 476.1 1162.8 480.5 1166.2 484.8 1169.3 488.8 1171.9 492.9 1174.2 497.1 1176.3 501.2 1178.3 505.5 1180.1 509.7 1181.7 513.8 1183.1 517.9 1184.3 522.0 1185.4 526.2 1186.3 530.3 1187.2 534.5 1188.0 538.6 1188.8 542.8 1189.5 546.9 1190.2 551.1 1190.7 555.2 1191.3 559.4 1191.7 563.5 1192.1 567.7 1192.5 571.8 1192.8 575.9 1193.0 580.1 1193.1 584.2 1193.0 588.4 1192.6 592.8 1191.8 597.2 1190.9 601.4 1190.1 605.4 1189.5 609.1 1189.2 611.5 1189.3 613.7 1189.6 615.8 1190.0 617.9 1190.4 619.9 1190.9 622.0 1191.2 624.0 1191.5 625.9 1191.9 627.7 1192.2 629.7 1192.5 631.7 1192.6 633.9 1192.5 637.5 1191.8 641.6 1190.6 645.8 1189.1 650.2 1187.4 654.5 1185.7 658.8 1184.2 663.0 1182.9 667.3 1181.7 671.5 1180.6 675.7 1179.4 679.8 1178.1 683.6 1176.8 686.5 1175.7 689.3 1174.5 691.9 1173.4 694.5 1172.1 697.2 1170.8 700.0 1169.3 703.5 1167.2 707.0 1164.8 710.6 1162.3 714.3 1159.7 718.4 1157.1 722.8 1154.7 729.9 1151.5 738.1 1148.5 746.8 1145.5 755.6 1142.6 764.2 1139.6 772.0 1136.6 777.8 1134.0 783.3 1131.5 788.5 1128.9 793.7 1126.3 799.1 1123.6 804.8 1121.0 812.1 1118.0 819.9 1114.9 827.9 1111.9 835.8 1108.8 843.3 1105.5 850.0 1102.2 854.5 1099.4 858.6 1096.4 862.5 1093.3 866.2 1090.4 870.0 1087.6 874.0 1085.2 877.9 1083.3 881.9 1081.7 885.9 1080.4 890.0 1079.1 894.3 1077.8 898.8 1076.5 905.2 1074.7 912.1 1072.8 919.4 1071.0 926.6 1069.2 933.6 1067.6 940.0 1066.2 944.5 1065.3 948.7 1064.6 952.8 1063.9 956.8 1063.3 960.7 1062.7 964.8 1062.0 968.9 1061.2 973.1 1060.5 977.2 1059.7 981.4 1058.9 985.5 1058.2 989.7 1057.5 993.8 1056.9 998.0 1056.3 1002.1 1055.8 1006.2 1055.3 1010.4 1054.9 1014.5 1054.5 1018.6 1054.2 1022.8 1053.9 1026.9 1053.7 1031.1 1053.5 1035.3 1053.3 1039.4 1053.2 1043.5 1053.1 1047.7 1053.0 1051.8 1053.0 1055.9 1053.0 1060.1 1053.1 1064.2 1053.2 1068.3 1053.4 1072.5 1053.6 1076.7 1053.8 1080.8 1054.1 1085.0 1054.4 1089.1 1054.7 1093.2 1055.0 1097.4 1055.4 1101.5 1055.8 1105.6 1056.2 1109.8 1056.7 1113.9 1057.2 1118.1 1057.8 1122.2 1058.5 1126.4 1059.3 1130.5 1060.1 1134.7 1060.9 1138.8 1061.8 1143.0 1062.7 1147.3 1063.5 1151.6 1064.4 1155.8 1065.3 1159.8 1066.4 1163.6 1067.5 1166.5 1068.5 1169.2 1069.7 1171.8 1070.8 1174.4 1072.0 1177.1 1073.3 1180.0 1074.5 1183.8 1076.0 1187.9 1077.6 1192.1 1079.3 1196.3 1080.9 1200.6 1082.5 1204.8 1084.0 1208.9 1085.4 1213.1 1086.6 1217.3 1087.9 1221.4 1089.1 1225.6 1090.5 1229.7 1092.0 1233.9 1093.8 1238.0 1095.7 1242.1 1097.7 1246.2 1099.7 1250.4 1101.7 1254.5 1103.6 1258.6 1105.3 1262.8 1106.9 1267.0 1108.5 1271.1 1110.1 1275.3 1111.7 1279.4 1113.5 1283.6 1115.4 1287.7 1117.4 1291.9 1119.4 1296.0 1121.5 1300.1 1123.7 1304.2 1126.0 1308.4 1128.5 1312.5 1131.2 1316.7 1134.0 1320.8 1136.8 1324.9 1139.5 1329.1 1142.1 1333.2 1144.5 1337.3 1146.8 1341.5 1149.1 1345.6 1151.3 1349.8 1153.5 1353.9 1155.8 1358.0 1158.1 1362.2 1160.4 1366.3 1162.7 1370.5 1164.9 1374.6 1167.2 1378.8 1169.4 1383.0 1171.6 1387.2 1173.8 1391.5 1175.9 1395.7 1178.0 1399.7 1180.0 1403.6 1181.9 1406.5 1183.3 1409.2 1184.6 1411.8 1185.9 1414.4 1187.1 1417.1 1188.2 1420.0 1189.4 1423.8 1190.8 1427.8 1192.1 1432.0 1193.3 1436.3 1194.5 1440.6 1195.8 1444.8 1197.0 1448.9 1198.3 1453.1 1199.6 1457.2 1200.9 1461.4 1202.2 1465.5 1203.4 1469.7 1204.4 1473.8 1205.2 1477.9 1206.0 1482.1 1206.6 1486.2 1207.2 1490.4 1207.7 1494.5 1208.1 1498.6 1208.5 1502.8 1208.8 1506.9 1209.1 1511.1 1209.3 1515.3 1209.4 1519.4 1209.4 1523.5 1209.3 1527.7 1209.2 1531.8 1209.0 1536.0 1208.6 1540.1 1208.2 1544.2 1207.5 1548.5 1206.6 1552.9 1205.4 1557.3 1204.1 1561.6 1202.8 1565.6 1201.4 1569.1 1200.0 1571.1 1199.2 1572.9 1198.4 1574.5 1197.6 1576.2 1196.7 1577.9 1195.7 1580.0 1194.5 1584.6 1191.7 1589.9 1188.3 1595.7 1184.5 1601.7 1180.4 1607.5 1176.3 1612.8 1172.3 1617.2 1168.7 1621.5 1165.1 1625.7 1161.4 1629.7 1157.6 1633.6 1153.9 1637.4 1150.2 1640.7 1146.9 1643.9 1143.7 1646.9 1140.5 1650.0 1137.2 1653.0 1133.7 1656.0 1130.0 1659.7 1125.2 1663.3 1120.1 1667.0 1114.8 1670.6 1109.3 1674.2 1103.8 1677.7 1098.4 1681.1 1093.0 1684.4 1087.6 1687.6 1082.1 1690.9 1076.6 1694.1 1071.1 1697.4 1065.6 1700.9 1060.1 1704.5 1054.7 1708.1 1049.3 1711.6 1043.9 1714.9 1038.4 1717.9 1032.8 1720.3 1027.3 1722.4 1021.7 1724.3 1016.0 1726.2 1010.4 1728.1 1005.0 1730.2 1000.0 1732.2 996.1 1734.3 992.6 1736.4 989.2 1738.6 985.8 1740.7 982.3 1742.7 978.4 1745.0 973.4 1747.1 968.0 1749.2 962.5 1751.3 956.8 1753.5 951.1 1755.8 945.6 1758.3 940.1 1760.9 934.6 1763.6 929.2 1766.3 923.8 1768.9 918.3 1771.4 912.8 1773.7 907.4 1775.9 902.1 1778.0 896.8 1780.1 891.4 1782.2 885.8 1784.5 880.0 1787.4 872.8 1790.3 865.2 1793.3 857.5 1796.4 849.6 1799.7 841.6 1803.0 833.7 1807.0 824.8 1811.4 815.4 1815.9 805.8 1820.2 796.8 1824.0 788.7 1827.0 782.0 1828.0 779.5 1828.8 777.5 1829.5 775.7 1830.2 773.9 1831.0 771.8 1832.0 769.2 1835.2 761.3 1839.4 751.4 1844.2 740.1 1849.1 728.1 1853.8 716.0 1857.9 704.6 1861.3 693.6 1864.3 682.3 1867.2 670.9 1869.9 659.8 1872.7 649.4 1875.6 640.0 1877.8 634.0 1880.1 628.5 1882.3 623.3 1884.6 618.4 1886.8 613.6 1888.8 608.9 1890.4 605.1 1891.9 601.6 1893.3 598.1 1894.7 594.7 1896.2 591.3 1897.6 587.8"/>
<path stroke="#78B42A" d="M272.9 20.0L273.0 25.6 273.2 31.0 273.3 36.4 273.5 42.1 273.6 48.2 273.8 55.0 274.1 68.1 274.4 83.0 274.7 99.3 275.0 116.1 275.4 132.9 275.9 149.0 276.4 164.2 276.9 179.3 277.5 194.4 278.1 209.4 278.8 224.6 279.5 240.0 280.3 256.3 281.3 272.8 282.2 289.5 283.2 306.2 284.2 322.7 285.2 339.0 286.1 354.7 286.9 370.6 287.8 386.4 288.7 401.8 289.6 416.4 290.6 430.0 291.3 439.2 292.2 447.8 293.0 456.0 293.9 463.9 294.7 471.9 295.5 480.0 296.2 488.2 296.8 496.3 297.4 504.5 298.0 512.6 298.7 520.8 299.3 529.0 299.9 537.4 300.6 545.8 301.3 554.3 301.9 562.7 302.6 570.9 303.2 579.0 303.8 586.0 304.3 592.8 304.8 599.5 305.3 606.2 305.9 613.0 306.5 620.0 307.2 628.1 307.9 636.3 308.7 644.7 309.5 653.2 310.3 661.6 311.2 670.0 312.1 678.2 313.1 686.4 314.1 694.5 315.1 702.7 316.1 710.8 317.2 719.0 318.4 727.3 319.6 735.6 320.9 744.0 322.2 752.3 323.5 760.7 324.7 769.0 325.8 777.3 326.8 785.5 327.8 793.7 328.9 802.0 330.2 810.4 331.8 819.0 334.1 828.9 336.9 839.2 339.9 849.5 343.0 859.9 346.1 870.1 349.0 880.0 351.4 888.6 353.6 897.1 355.7 905.4 358.0 913.6 360.3 921.8 363.0 930.0 366.0 938.3 369.2 946.4 372.5 954.6 376.0 962.7 379.5 970.8 383.0 979.0 386.6 987.3 390.3 995.7 394.0 1004.1 397.7 1012.5 401.4 1020.8 405.0 1029.0 408.4 1036.8 411.7 1044.7 414.9 1052.5 418.2 1060.2 421.6 1067.7 425.0 1075.0 428.2 1081.6 431.5 1088.3 434.9 1094.8 438.3 1101.0 441.6 1106.8 445.0 1112.0 447.4 1115.4 449.8 1118.5 452.1 1121.4 454.6 1124.1 457.2 1126.8 460.0 1129.6 463.7 1133.0 467.6 1136.4 471.8 1139.8 476.2 1143.2 480.5 1146.4 484.8 1149.4 488.9 1152.2 493.0 1154.9 497.1 1157.5 501.3 1160.0 505.5 1162.3 509.7 1164.3 513.8 1166.0 517.9 1167.5 522.0 1168.8 526.1 1169.9 530.3 1170.9 534.5 1171.8 538.6 1172.5 542.8 1173.1 546.9 1173.6 551.1 1173.9 555.2 1174.2 559.4 1174.3 563.5 1174.3 567.7 1174.2 571.8 1174.0 575.9 1173.7 580.1 1173.4 584.2 1173.0 588.4 1172.5 592.5 1171.9 596.7 1171.3 600.8 1170.6 605.0 1169.9 609.1 1169.3 613.2 1168.7 617.4 1168.2 621.5 1167.6 625.6 1167.0 629.8 1166.4 633.9 1165.6 638.0 1164.8 642.1 1163.9 646.2 1163.0 650.4 1162.0 654.5 1160.8 658.8 1159.4 663.8 1157.4 669.0 1155.1 674.2 1152.5 679.4 1149.9 684.7 1147.3 690.0 1144.8 695.4 1142.4 700.9 1140.2 706.4 1137.9 711.8 1135.6 717.3 1133.3 722.8 1130.9 728.3 1128.4 733.8 1125.8 739.2 1123.2 744.7 1120.6 750.1 1117.9 755.6 1115.3 761.1 1112.7 766.5 1110.1 772.0 1107.4 777.4 1104.8 782.9 1102.3 788.4 1099.7 793.9 1097.2 799.4 1094.7 805.0 1092.3 810.5 1089.9 816.0 1087.5 821.3 1085.0 826.1 1082.7 830.7 1080.4 835.3 1078.1 839.9 1075.8 844.8 1073.4 850.0 1071.0 857.4 1067.7 865.4 1064.1 873.8 1060.5 882.3 1056.9 890.7 1053.5 898.8 1050.4 905.9 1047.9 913.1 1045.6 920.2 1043.5 927.1 1041.5 933.8 1039.6 940.0 1037.7 944.5 1036.3 948.7 1034.9 952.8 1033.6 956.7 1032.4 960.7 1031.2 964.8 1030.2 968.9 1029.3 973.1 1028.5 977.2 1027.7 981.4 1027.1 985.5 1026.5 989.7 1025.9 993.8 1025.4 998.0 1024.9 1002.1 1024.4 1006.2 1024.0 1010.4 1023.7 1014.5 1023.4 1018.6 1023.2 1022.8 1023.0 1026.9 1022.9 1031.1 1022.8 1035.3 1022.8 1039.4 1022.8 1043.5 1022.9 1047.7 1023.0 1051.8 1023.2 1055.9 1023.4 1060.1 1023.7 1064.2 1024.0 1068.4 1024.3 1072.5 1024.7 1076.7 1025.1 1080.8 1025.5 1085.0 1026.0 1089.1 1026.5 1093.2 1027.0 1097.4 1027.6 1101.5 1028.2 1105.6 1028.8 1109.8 1029.5 1113.9 1030.2 1118.1 1030.9 1122.2 1031.7 1126.4 1032.5 1130.5 1033.3 1134.7 1034.2 1138.8 1035.2 1143.0 1036.3 1147.3 1037.5 1151.6 1038.8 1155.7 1040.1 1159.8 1041.4 1163.6 1042.7 1166.5 1043.7 1169.2 1044.7 1171.8 1045.7 1174.4 1046.8 1177.1 1047.9 1180.0 1049.0 1183.8 1050.5 1187.9 1052.1 1192.1 1053.8 1196.4 1055.5 1200.6 1057.2 1204.8 1059.0 1209.0 1060.8 1213.1 1062.6 1217.3 1064.5 1221.4 1066.4 1225.6 1068.3 1229.7 1070.2 1233.8 1072.1 1238.0 1074.0 1242.1 1076.0 1246.2 1077.9 1250.4 1079.8 1254.5 1081.8 1258.7 1083.7 1262.9 1085.5 1267.0 1087.4 1271.2 1089.3 1275.3 1091.4 1279.4 1093.7 1283.6 1096.5 1287.7 1099.7 1291.8 1103.0 1295.9 1106.4 1300.0 1109.5 1304.2 1112.3 1308.3 1114.5 1312.4 1116.5 1316.6 1118.3 1320.7 1120.0 1324.9 1121.7 1329.1 1123.5 1333.2 1125.3 1337.4 1127.1 1341.6 1128.8 1345.7 1130.7 1349.8 1132.6 1353.9 1134.7 1358.1 1137.1 1362.3 1139.8 1366.4 1142.6 1370.5 1145.4 1374.6 1148.2 1378.8 1150.8 1383.0 1153.2 1387.2 1155.6 1391.5 1158.0 1395.7 1160.2 1399.8 1162.4 1403.6 1164.5 1406.5 1166.1 1409.2 1167.7 1411.8 1169.2 1414.4 1170.6 1417.1 1172.0 1420.0 1173.4 1423.8 1175.0 1427.8 1176.5 1432.0 1177.9 1436.3 1179.3 1440.6 1180.7 1444.8 1182.0 1448.9 1183.3 1453.1 1184.7 1457.2 1186.0 1461.4 1187.2 1465.5 1188.4 1469.7 1189.5 1473.8 1190.5 1477.9 1191.5 1482.1 1192.5 1486.2 1193.3 1490.3 1194.0 1494.5 1194.5 1498.6 1194.8 1502.8 1195.0 1506.9 1195.0 1511.1 1195.0 1515.3 1194.8 1519.4 1194.5 1523.5 1194.2 1527.5 1193.7 1531.6 1193.2 1535.7 1192.6 1539.8 1191.7 1544.2 1190.7 1549.9 1189.1 1556.0 1187.2 1562.2 1185.0 1568.4 1182.6 1574.4 1180.1 1580.0 1177.5 1584.5 1175.2 1588.7 1172.9 1592.8 1170.5 1596.7 1168.0 1600.7 1165.3 1604.6 1162.5 1608.9 1159.2 1613.2 1155.6 1617.6 1151.9 1621.7 1148.1 1625.6 1144.5 1629.2 1141.2 1631.5 1139.0 1633.7 1137.0 1635.7 1135.0 1637.7 1133.1 1639.6 1131.1 1641.6 1129.0 1643.7 1126.8 1645.8 1124.5 1647.8 1122.2 1649.9 1119.8 1651.9 1117.4 1653.8 1114.9 1655.7 1112.3 1657.4 1109.8 1659.1 1107.1 1660.8 1104.4 1662.6 1101.5 1664.6 1098.4 1667.7 1093.6 1671.2 1088.3 1674.9 1082.7 1678.6 1076.9 1682.4 1071.2 1686.0 1065.6 1689.6 1060.1 1693.4 1054.6 1697.1 1049.1 1700.7 1043.6 1704.2 1038.2 1707.3 1032.8 1709.7 1028.1 1711.9 1023.4 1713.9 1018.8 1715.8 1014.1 1717.8 1009.6 1720.0 1005.0 1722.3 1000.5 1724.7 996.2 1727.2 991.8 1729.7 987.5 1732.1 983.0 1734.5 978.4 1737.0 973.2 1739.5 967.8 1742.0 962.3 1744.5 956.7 1746.8 951.1 1749.2 945.6 1751.5 940.1 1753.6 934.7 1755.7 929.2 1757.9 923.7 1760.0 918.3 1762.3 912.8 1764.7 907.4 1767.1 902.1 1769.7 896.8 1772.2 891.4 1774.7 885.8 1777.1 880.0 1779.8 872.9 1782.4 865.5 1785.0 857.8 1787.6 850.0 1790.3 841.9 1793.3 833.7 1797.2 823.5 1801.4 813.0 1805.9 802.1 1810.3 791.1 1814.8 780.1 1819.1 769.2 1823.3 758.5 1827.4 747.7 1831.5 737.0 1835.5 726.2 1839.5 715.4 1843.3 704.6 1847.0 693.6 1850.6 682.2 1854.1 670.8 1857.5 659.8 1860.9 649.4 1864.3 640.0 1866.7 634.3 1869.0 629.2 1871.3 624.5 1873.6 619.8 1875.9 614.7 1878.2 608.9 1881.5 599.2 1884.7 588.4 1887.9 576.8 1891.2 564.8 1894.4 552.9 1897.6 541.3"/>
<path stroke="#444444" d="M275.8 20.0L276.0 25.6 276.1 31.0 276.3 36.4 276.4 42.1 276.6 48.2 276.7 55.0 277.1 68.1 277.5 83.0 278.0 99.3 278.5 116.1 279.0 132.9 279.6 149.0 280.1 164.2 280.6 179.3 281.2 194.4 281.8 209.4 282.5 224.6 283.2 240.0 284.1 256.3 285.1 272.9 286.2 289.5 287.3 306.2 288.4 322.7 289.5 339.0 290.5 354.7 291.5 370.6 292.6 386.4 293.6 401.8 294.7 416.4 295.8 430.0 296.6 439.2 297.5 447.8 298.3 456.0 299.1 463.9 300.0 471.9 300.8 480.0 301.5 488.2 302.2 496.3 302.9 504.5 303.7 512.6 304.4 520.8 305.1 529.0 305.8 537.4 306.5 545.8 307.3 554.3 308.0 562.7 308.8 570.9 309.5 579.0 310.2 586.0 310.8 592.8 311.5 599.5 312.2 606.2 312.9 613.0 313.6 620.0 314.5 628.1 315.4 636.3 316.4 644.7 317.4 653.2 318.5 661.6 319.6 670.0 320.8 678.2 322.0 686.4 323.3 694.5 324.6 702.7 326.0 710.8 327.5 719.0 329.1 727.3 330.7 735.6 332.5 744.0 334.3 752.3 336.1 760.7 337.8 769.0 339.5 777.3 341.2 785.5 342.9 793.7 344.6 802.0 346.5 810.4 348.5 819.0 351.1 828.9 354.0 839.1 357.0 849.5 360.1 859.9 363.1 870.1 366.0 880.0 368.4 888.6 370.8 897.1 373.1 905.3 375.4 913.6 377.7 921.8 380.0 930.0 382.3 938.2 384.6 946.4 386.9 954.5 389.2 962.7 391.6 970.8 394.0 979.0 396.5 987.4 399.0 995.9 401.5 1004.5 404.1 1012.9 407.0 1021.1 410.0 1029.0 413.0 1035.8 416.1 1042.3 419.3 1048.6 422.7 1054.9 426.3 1061.3 430.0 1068.0 434.5 1076.5 439.2 1085.7 444.1 1095.1 449.2 1104.1 454.5 1112.0 460.0 1118.4 463.9 1121.7 468.0 1124.3 472.2 1126.4 476.4 1128.2 480.6 1130.0 484.8 1132.0 488.9 1134.2 493.1 1136.3 497.2 1138.5 501.4 1140.5 505.5 1142.6 509.7 1144.5 513.8 1146.3 517.9 1148.1 522.0 1149.8 526.2 1151.5 530.3 1153.0 534.5 1154.4 538.6 1155.7 542.7 1157.0 546.9 1158.2 551.1 1159.2 555.2 1160.0 559.4 1160.6 563.5 1160.8 567.6 1160.8 571.8 1160.6 575.9 1160.3 580.1 1159.8 584.2 1159.4 588.4 1158.9 592.6 1158.4 596.8 1157.8 601.0 1157.1 605.3 1156.3 609.5 1155.5 613.9 1154.6 618.4 1153.6 622.9 1152.5 627.4 1151.3 631.7 1150.0 636.0 1148.5 639.9 1146.9 643.6 1145.1 647.3 1143.2 651.0 1141.2 654.8 1139.3 658.8 1137.5 663.9 1135.6 669.5 1133.8 675.2 1132.1 680.8 1130.3 685.8 1128.6 690.0 1126.8 692.0 1125.7 693.6 1124.7 695.0 1123.6 696.5 1122.5 698.1 1121.3 700.0 1120.0 704.3 1117.2 709.5 1113.8 715.1 1110.2 721.0 1106.5 727.0 1103.0 732.8 1100.0 738.2 1097.6 743.6 1095.4 749.1 1093.5 754.6 1091.6 760.1 1089.6 765.6 1087.5 771.1 1085.2 776.6 1082.8 782.1 1080.4 787.5 1077.9 793.0 1075.3 798.4 1072.7 803.9 1070.0 809.5 1067.1 815.0 1064.3 820.5 1061.3 826.0 1058.4 831.3 1055.5 836.1 1052.7 840.8 1049.9 845.4 1047.0 850.1 1044.2 854.9 1041.5 860.0 1039.0 866.0 1036.5 872.3 1034.1 878.9 1031.9 885.5 1029.8 892.2 1027.7 898.8 1025.6 905.9 1023.3 913.3 1020.7 920.8 1018.3 928.0 1016.0 934.5 1014.1 940.0 1012.9 942.4 1012.6 944.5 1012.4 946.4 1012.4 948.2 1012.4 950.1 1012.4 952.0 1012.2 954.1 1011.8 956.1 1011.3 958.1 1010.8 960.2 1010.2 962.4 1009.6 964.8 1009.1 968.5 1008.5 972.5 1008.0 976.7 1007.5 981.1 1007.0 985.5 1006.5 989.7 1006.0 993.8 1005.5 998.0 1004.9 1002.1 1004.4 1006.2 1003.8 1010.4 1003.3 1014.5 1002.9 1018.6 1002.5 1022.8 1002.1 1026.9 1001.8 1031.1 1001.5 1035.2 1001.2 1039.4 1001.1 1043.5 1001.0 1047.7 1001.1 1051.8 1001.1 1055.9 1001.3 1060.1 1001.5 1064.2 1001.7 1068.4 1002.0 1072.5 1002.3 1076.7 1002.7 1080.8 1003.1 1085.0 1003.6 1089.1 1004.2 1093.2 1004.9 1097.4 1005.6 1101.5 1006.4 1105.6 1007.3 1109.8 1008.2 1113.9 1009.1 1118.1 1010.1 1122.2 1011.1 1126.4 1012.1 1130.5 1013.2 1134.7 1014.2 1138.8 1015.3 1143.0 1016.4 1147.3 1017.5 1151.5 1018.6 1155.7 1019.7 1159.8 1020.7 1163.6 1021.6 1166.6 1022.2 1169.4 1022.7 1172.2 1023.1 1174.8 1023.6 1177.5 1024.1 1180.0 1024.7 1182.2 1025.4 1184.3 1026.2 1186.3 1027.1 1188.3 1027.9 1190.3 1028.6 1192.4 1029.2 1194.4 1029.5 1196.4 1029.6 1198.4 1029.7 1200.4 1029.7 1202.5 1029.9 1204.8 1030.4 1208.5 1031.6 1212.5 1033.3 1216.8 1035.3 1221.1 1037.4 1225.5 1039.6 1229.7 1041.6 1233.8 1043.5 1238.0 1045.3 1242.1 1047.2 1246.2 1049.1 1250.4 1050.9 1254.5 1052.8 1258.7 1054.6 1262.8 1056.4 1267.0 1058.2 1271.1 1060.1 1275.3 1062.0 1279.4 1064.0 1283.6 1066.2 1287.7 1068.4 1291.9 1070.7 1296.0 1073.1 1300.1 1075.5 1304.2 1078.0 1308.4 1080.5 1312.6 1083.1 1316.7 1085.7 1320.9 1088.3 1325.0 1091.1 1329.1 1094.0 1333.3 1097.3 1337.4 1101.0 1341.4 1104.8 1345.5 1108.5 1349.6 1111.9 1353.9 1114.8 1357.9 1117.0 1362.0 1118.8 1366.2 1120.4 1370.4 1121.8 1374.6 1123.2 1378.8 1124.7 1383.0 1126.2 1387.3 1127.6 1391.6 1129.0 1395.8 1130.4 1399.8 1131.8 1403.6 1133.4 1406.5 1134.8 1409.2 1136.4 1411.8 1137.9 1414.4 1139.5 1417.1 1141.1 1420.0 1142.6 1423.8 1144.4 1427.8 1146.2 1432.0 1148.0 1436.3 1149.7 1440.6 1151.4 1444.8 1153.0 1448.9 1154.5 1453.1 1156.0 1457.2 1157.5 1461.4 1158.8 1465.5 1160.1 1469.7 1161.2 1473.8 1162.2 1477.9 1163.1 1482.1 1164.0 1486.2 1164.7 1490.4 1165.2 1494.5 1165.5 1498.6 1165.6 1502.8 1165.5 1507.0 1165.2 1511.1 1164.8 1515.3 1164.3 1519.4 1163.7 1523.6 1163.1 1527.7 1162.4 1531.9 1161.7 1536.0 1160.8 1540.1 1159.8 1544.2 1158.7 1548.5 1157.3 1552.9 1155.7 1557.4 1153.9 1561.6 1152.1 1565.6 1150.3 1569.1 1148.7 1571.2 1147.7 1573.0 1146.8 1574.7 1145.9 1576.3 1144.9 1578.1 1143.9 1580.0 1142.8 1583.1 1141.1 1586.4 1139.3 1589.9 1137.3 1593.5 1135.2 1597.0 1132.9 1600.5 1130.5 1604.4 1127.5 1608.3 1124.1 1612.3 1120.5 1616.1 1116.9 1619.9 1113.4 1623.5 1110.0 1626.4 1107.4 1629.3 1104.9 1632.0 1102.5 1634.7 1100.0 1637.4 1097.3 1640.0 1094.3 1643.1 1090.2 1646.2 1085.6 1649.2 1080.7 1652.1 1075.7 1655.0 1070.6 1658.0 1065.6 1661.1 1060.3 1664.3 1054.8 1667.4 1049.3 1670.6 1043.8 1673.7 1038.3 1676.9 1032.8 1680.2 1027.3 1683.7 1021.6 1687.2 1016.0 1690.6 1010.5 1693.8 1005.1 1696.6 1000.0 1698.5 996.2 1700.2 992.7 1701.8 989.3 1703.3 985.8 1704.9 982.2 1706.6 978.4 1708.9 973.3 1711.4 968.0 1713.9 962.4 1716.4 956.8 1718.9 951.2 1721.3 945.6 1723.5 940.1 1725.7 934.7 1727.8 929.2 1729.9 923.7 1732.1 918.2 1734.5 912.8 1737.2 907.4 1740.1 902.1 1743.1 896.8 1746.1 891.4 1749.0 885.9 1751.7 880.0 1754.5 872.9 1757.1 865.5 1759.5 857.9 1762.0 850.0 1764.6 841.9 1767.4 833.7 1771.1 823.6 1775.1 813.0 1779.3 802.1 1783.5 791.1 1787.7 780.1 1791.7 769.2 1795.6 758.5 1799.4 747.7 1803.1 736.9 1806.8 726.1 1810.6 715.4 1814.3 704.6 1818.2 693.6 1822.3 682.2 1826.5 670.9 1830.4 659.9 1833.9 649.5 1836.9 640.0 1838.5 634.3 1839.7 629.1 1840.8 624.1 1841.8 619.3 1843.0 614.3 1844.4 608.9 1846.6 601.8 1849.0 594.4 1851.6 586.9 1854.4 579.1 1857.2 571.1 1860.0 563.0 1863.3 553.4 1866.7 543.4 1870.2 533.2 1873.7 522.9 1877.1 512.9 1880.3 503.3 1882.9 495.2 1885.4 487.4 1887.8 479.7 1890.2 472.2 1892.6 464.6 1895.0 456.9"/>
<path stroke="#E8404E" d="M276.4 20.0L276.5 25.6 276.7 31.0 276.8 36.4 276.9 42.1 277.1 48.2 277.3 55.0 277.7 68.1 278.1 83.0 278.6 99.3 279.2 116.1 279.7 132.9 280.3 149.0 280.8 164.2 281.4 179.3 281.9 194.4 282.5 209.4 283.2 224.6 283.9 240.0 284.8 256.3 285.8 272.9 286.9 289.5 288.0 306.2 289.1 322.7 290.3 339.0 291.3 354.7 292.4 370.6 293.5 386.4 294.6 401.8 295.7 416.4 296.8 430.0 297.6 439.2 298.5 447.8 299.3 456.0 300.1 463.9 301.0 471.9 301.8 480.0 302.5 488.2 303.3 496.4 304.0 504.5 304.7 512.6 305.4 520.8 306.2 529.0 306.9 537.4 307.7 545.8 308.4 554.3 309.2 562.7 309.9 570.9 310.7 579.0 311.4 586.0 312.1 592.8 312.8 599.5 313.5 606.2 314.2 613.0 315.0 620.0 315.9 628.1 316.9 636.3 317.9 644.7 318.9 653.2 320.0 661.6 321.2 670.0 322.4 678.2 323.7 686.4 325.0 694.5 326.4 702.7 327.9 710.8 329.4 719.0 331.1 727.3 332.9 735.6 334.7 744.0 336.6 752.3 338.4 760.7 340.3 769.0 342.1 777.3 343.9 785.5 345.7 793.7 347.6 802.0 349.6 810.4 351.7 819.0 354.5 828.9 357.5 839.1 360.7 849.5 363.9 859.9 367.1 870.1 370.0 880.0 372.5 888.6 374.8 897.0 377.1 905.3 379.4 913.6 381.7 921.8 384.0 930.0 386.3 938.2 388.6 946.4 390.9 954.5 393.2 962.7 395.6 970.8 398.0 979.0 400.5 987.4 403.0 995.9 405.5 1004.5 408.1 1012.9 411.0 1021.1 414.0 1029.0 417.0 1035.8 420.1 1042.4 423.4 1048.8 426.9 1055.1 430.4 1061.5 434.0 1068.0 437.9 1075.8 441.9 1084.2 446.0 1092.7 450.4 1100.6 455.0 1107.3 460.0 1112.2 463.8 1114.2 467.9 1115.2 472.1 1115.6 476.4 1115.8 480.7 1116.1 484.8 1117.1 489.0 1118.8 493.2 1120.9 497.3 1123.2 501.4 1125.5 505.5 1127.7 509.7 1129.6 513.8 1131.2 517.9 1132.6 522.0 1133.9 526.2 1135.1 530.3 1136.1 534.5 1137.0 538.6 1137.7 542.8 1138.3 546.9 1138.7 551.1 1139.0 555.2 1139.3 559.4 1139.5 563.5 1139.7 567.7 1139.9 571.8 1140.0 576.0 1140.0 580.1 1139.8 584.2 1139.5 588.4 1139.0 592.5 1138.2 596.6 1137.4 600.8 1136.4 604.9 1135.2 609.1 1134.0 613.6 1132.5 618.1 1130.8 622.7 1128.9 627.2 1127.0 631.6 1125.2 636.0 1123.4 639.9 1121.9 643.6 1120.5 647.3 1119.2 651.0 1117.8 654.8 1116.3 658.8 1114.7 663.9 1112.5 669.5 1110.1 675.2 1107.6 680.7 1105.1 685.8 1102.7 690.0 1100.6 691.9 1099.6 693.6 1098.6 695.0 1097.7 696.4 1096.8 698.1 1095.9 700.0 1094.8 704.4 1092.5 709.5 1089.9 715.2 1087.0 721.1 1084.0 727.1 1081.1 732.8 1078.4 738.3 1075.9 743.7 1073.4 749.2 1071.1 754.7 1068.7 760.1 1066.2 765.6 1063.7 771.1 1061.1 776.6 1058.3 782.0 1055.6 787.5 1052.8 792.9 1050.1 798.4 1047.3 803.9 1044.5 809.4 1041.8 815.0 1039.0 820.5 1036.3 825.9 1033.6 831.3 1030.9 836.1 1028.5 840.8 1026.2 845.5 1023.9 850.2 1021.6 855.0 1019.3 860.0 1016.9 866.1 1014.0 872.4 1011.1 878.9 1008.1 885.5 1005.1 892.2 1002.2 898.8 999.5 905.7 996.8 912.8 994.1 919.9 991.5 926.9 989.0 933.7 986.8 940.0 984.9 944.5 983.7 948.7 982.7 952.8 981.9 956.8 981.1 960.7 980.3 964.8 979.3 969.0 978.1 973.1 976.8 977.2 975.5 981.4 974.2 985.5 972.9 989.7 971.9 993.8 971.0 997.9 970.3 1002.1 969.7 1006.2 969.1 1010.4 968.6 1014.5 968.1 1018.6 967.7 1022.8 967.3 1026.9 967.0 1031.1 966.7 1035.2 966.5 1039.4 966.3 1043.5 966.1 1047.7 965.9 1051.8 965.8 1055.9 965.7 1060.1 965.7 1064.2 965.7 1068.3 965.8 1072.5 965.9 1076.7 966.1 1080.8 966.3 1085.0 966.6 1089.1 966.9 1093.2 967.2 1097.4 967.5 1101.5 967.8 1105.7 968.3 1109.8 968.8 1113.9 969.4 1118.1 970.2 1122.2 971.1 1126.4 972.1 1130.5 973.2 1134.7 974.4 1138.8 975.6 1143.0 976.9 1147.3 978.3 1151.6 979.7 1155.8 981.2 1159.8 982.7 1163.6 984.3 1166.6 985.7 1169.5 987.2 1172.2 988.7 1174.9 990.2 1177.4 991.6 1180.0 993.0 1182.2 994.2 1184.2 995.4 1186.3 996.5 1188.3 997.6 1190.3 998.6 1192.4 999.4 1194.4 1000.0 1196.5 1000.5 1198.6 1000.9 1200.6 1001.3 1202.7 1001.6 1204.8 1001.9 1206.8 1002.2 1208.9 1002.3 1210.9 1002.5 1212.9 1002.7 1215.0 1002.8 1217.0 1003.1 1219.1 1003.4 1221.1 1003.6 1223.1 1003.9 1225.2 1004.3 1227.4 1004.8 1229.7 1005.6 1233.4 1007.3 1237.4 1009.7 1241.6 1012.4 1245.9 1015.2 1250.3 1018.0 1254.5 1020.5 1258.6 1022.7 1262.8 1024.8 1266.9 1026.9 1271.1 1028.9 1275.2 1031.0 1279.4 1033.0 1283.5 1035.0 1287.7 1036.9 1291.9 1038.8 1296.0 1040.7 1300.1 1042.8 1304.2 1045.0 1308.4 1047.6 1312.5 1050.5 1316.7 1053.4 1320.8 1056.4 1324.9 1059.3 1329.1 1062.0 1333.2 1064.4 1337.3 1066.6 1341.4 1068.8 1345.6 1070.9 1349.7 1073.0 1353.9 1075.0 1358.0 1077.0 1362.2 1078.9 1366.3 1080.8 1370.5 1082.6 1374.6 1084.4 1378.8 1086.0 1383.0 1087.5 1387.3 1088.8 1391.5 1090.0 1395.7 1091.2 1399.8 1092.6 1403.6 1094.0 1406.5 1095.3 1409.2 1096.7 1411.8 1098.2 1414.4 1099.7 1417.1 1101.2 1420.0 1102.7 1423.8 1104.6 1427.8 1106.6 1432.0 1108.7 1436.3 1110.7 1440.6 1112.6 1444.8 1114.2 1448.9 1115.6 1453.0 1116.8 1457.2 1117.9 1461.3 1118.9 1465.5 1119.7 1469.7 1120.4 1473.8 1120.9 1477.9 1121.3 1482.1 1121.6 1486.2 1121.7 1490.4 1121.7 1494.5 1121.6 1498.7 1121.3 1502.8 1120.9 1507.0 1120.3 1511.1 1119.6 1515.3 1118.8 1519.4 1117.9 1523.6 1117.0 1527.8 1116.0 1532.0 1115.0 1536.1 1113.7 1540.2 1112.2 1544.2 1110.4 1548.5 1108.0 1552.7 1105.1 1556.9 1102.0 1561.0 1098.6 1565.0 1095.2 1569.1 1091.8 1573.3 1088.3 1577.5 1084.8 1581.7 1081.1 1585.8 1077.4 1589.9 1073.5 1593.9 1069.4 1598.2 1064.8 1602.4 1059.9 1606.5 1054.9 1610.6 1049.8 1614.7 1044.7 1618.8 1039.6 1623.0 1034.4 1627.3 1029.0 1631.5 1023.6 1635.7 1018.4 1639.7 1013.3 1643.6 1008.6 1646.5 1005.3 1649.4 1002.2 1652.3 999.4 1655.0 996.5 1657.6 993.4 1660.0 989.9 1662.6 985.3 1665.0 980.2 1667.2 974.8 1669.4 969.4 1671.4 964.2 1673.5 959.5 1675.1 956.2 1676.7 953.2 1678.2 950.3 1679.7 947.4 1681.3 944.3 1682.9 940.7 1685.5 934.3 1688.3 926.8 1691.2 918.8 1694.2 910.9 1697.1 903.5 1700.0 897.3 1701.9 893.9 1703.8 891.0 1705.8 888.2 1707.7 885.6 1709.5 882.9 1711.3 880.0 1713.1 876.7 1714.8 873.4 1716.5 870.0 1718.2 866.4 1719.8 862.5 1721.6 858.2 1724.5 850.3 1727.6 841.2 1730.7 831.3 1733.9 821.1 1737.0 811.0 1740.0 801.5 1742.7 793.3 1745.3 785.3 1747.9 777.4 1750.5 769.5 1753.2 761.4 1756.0 753.0 1759.4 742.6 1763.1 731.6 1766.8 720.4 1770.5 709.2 1774.0 698.4 1777.1 688.4 1779.2 681.1 1781.1 674.2 1782.9 667.6 1784.6 661.0 1786.4 654.6 1788.4 648.0 1790.5 641.4 1792.8 634.9 1795.1 628.5 1797.5 622.0 1799.8 615.5 1802.2 608.9 1804.6 602.0 1806.9 595.2 1809.3 588.4 1811.7 581.4 1814.2 574.1 1817.0 566.6 1820.8 556.8 1824.9 546.4 1829.3 535.7 1833.7 524.9 1838.1 514.0 1842.3 503.3 1846.3 493.0 1850.3 482.8 1854.2 472.7 1858.1 462.4 1862.0 451.5 1866.0 440.0 1871.2 424.1 1876.4 407.1 1881.7 389.3 1887.0 371.1 1892.3 353.0 1897.6 335.2"/>
<path stroke="#2A5CAA" d="M277.8 20.0L277.9 25.6 278.1 31.0 278.2 36.4 278.3 42.1 278.5 48.2 278.7 55.0 279.1 68.1 279.6 83.0 280.2 99.3 280.8 116.1 281.4 132.9 282.0 149.0 282.6 164.2 283.1 179.3 283.7 194.4 284.3 209.4 285.0 224.6 285.7 240.0 286.6 256.3 287.7 272.9 288.8 289.5 289.9 306.2 291.1 322.7 292.3 339.0 293.4 354.7 294.6 370.6 295.8 386.4 297.0 401.8 298.1 416.4 299.3 430.0 300.1 439.2 301.0 447.8 301.8 456.0 302.6 463.9 303.5 471.9 304.3 480.0 305.1 488.2 305.9 496.4 306.6 504.5 307.4 512.6 308.2 520.8 308.9 529.0 309.7 537.4 310.5 545.8 311.3 554.3 312.1 562.7 312.9 571.0 313.7 579.0 314.4 586.0 315.2 592.8 315.9 599.5 316.7 606.2 317.5 613.0 318.4 620.0 319.4 628.1 320.5 636.3 321.5 644.7 322.7 653.2 323.9 661.7 325.2 670.0 326.6 678.2 328.0 686.4 329.4 694.5 331.0 702.7 332.6 710.8 334.3 719.0 336.2 727.3 338.1 735.7 340.2 744.0 342.3 752.3 344.4 760.7 346.6 769.0 348.6 777.3 350.6 785.5 352.7 793.7 354.8 802.0 357.1 810.4 359.7 819.0 363.1 828.9 367.0 839.1 371.1 849.5 375.1 859.8 378.9 870.1 382.0 880.0 384.2 888.6 385.9 897.0 387.4 905.3 388.9 913.5 390.3 921.8 392.0 930.0 393.9 938.2 395.8 946.4 397.8 954.5 399.8 962.7 401.9 970.8 404.0 979.0 406.1 987.4 408.2 995.9 410.4 1004.5 412.7 1012.9 415.2 1021.1 418.0 1029.0 420.9 1035.9 424.1 1042.5 427.5 1048.9 431.0 1055.2 434.5 1061.6 438.0 1068.0 441.4 1075.0 444.8 1082.5 448.2 1090.0 451.8 1097.1 455.6 1103.4 460.0 1108.4 463.7 1111.3 467.8 1113.4 472.0 1115.0 476.3 1116.4 480.6 1117.9 484.8 1119.6 489.0 1121.7 493.1 1123.8 497.2 1126.0 501.3 1128.2 505.5 1130.2 509.7 1132.0 513.9 1133.6 518.2 1135.0 522.6 1136.3 526.8 1137.5 530.8 1138.6 534.5 1139.5 536.8 1140.1 539.0 1140.7 541.0 1141.2 543.0 1141.6 545.0 1141.9 547.0 1142.0 549.0 1141.9 551.0 1141.6 552.9 1141.1 555.0 1140.6 557.1 1140.0 559.4 1139.5 563.0 1138.8 567.0 1138.0 571.3 1137.1 575.6 1136.3 580.0 1135.4 584.2 1134.5 588.3 1133.7 592.5 1132.9 596.6 1132.1 600.8 1131.2 604.9 1130.2 609.1 1129.0 613.6 1127.5 618.2 1125.8 622.7 1124.0 627.2 1122.1 631.7 1120.1 636.0 1118.0 639.9 1115.9 643.6 1113.7 647.3 1111.3 651.0 1109.0 654.8 1106.8 658.8 1104.7 663.9 1102.5 669.4 1100.5 675.1 1098.5 680.7 1096.6 685.8 1094.9 690.0 1093.2 691.9 1092.3 693.6 1091.6 695.0 1090.8 696.5 1090.1 698.1 1089.3 700.0 1088.3 704.4 1086.3 709.6 1083.9 715.3 1081.3 721.2 1078.5 727.2 1075.6 732.8 1072.7 738.3 1069.5 743.8 1066.1 749.2 1062.6 754.7 1059.1 760.1 1055.6 765.6 1052.2 771.0 1049.0 776.5 1045.8 782.0 1042.7 787.4 1039.5 792.9 1036.4 798.4 1033.3 803.9 1030.1 809.4 1026.9 815.0 1023.7 820.5 1020.5 825.9 1017.4 831.3 1014.5 836.1 1012.0 840.8 1009.7 845.5 1007.4 850.2 1005.2 855.0 1002.9 860.0 1000.5 866.1 997.5 872.4 994.4 878.9 991.2 885.5 988.0 892.1 984.9 898.8 982.1 905.7 979.4 912.7 976.8 919.9 974.3 926.9 972.0 933.7 969.9 940.0 968.1 944.5 966.9 948.7 965.8 952.7 964.9 956.7 964.1 960.7 963.3 964.8 962.5 968.9 961.8 973.1 961.1 977.2 960.4 981.4 959.8 985.5 959.3 989.7 958.8 993.8 958.4 998.0 958.0 1002.1 957.7 1006.2 957.4 1010.4 957.2 1014.5 957.0 1018.6 956.8 1022.8 956.6 1026.9 956.5 1031.1 956.4 1035.3 956.3 1039.4 956.3 1043.5 956.3 1047.7 956.3 1051.8 956.4 1055.9 956.5 1060.1 956.7 1064.2 957.0 1068.4 957.4 1072.5 958.0 1076.7 958.7 1080.8 959.4 1085.0 960.0 1089.1 960.7 1093.2 961.3 1097.4 961.8 1101.5 962.4 1105.6 963.0 1109.8 963.6 1113.9 964.4 1118.1 965.3 1122.2 966.3 1126.4 967.3 1130.5 968.4 1134.7 969.5 1138.8 970.6 1143.0 971.6 1147.3 972.6 1151.5 973.6 1155.7 974.6 1159.8 975.7 1163.6 976.8 1166.5 977.8 1169.2 978.8 1171.8 979.8 1174.4 980.9 1177.1 982.0 1180.0 983.2 1183.8 984.9 1187.9 986.7 1192.1 988.7 1196.3 990.6 1200.6 992.6 1204.8 994.4 1208.9 996.1 1213.1 997.6 1217.3 999.1 1221.5 1000.7 1225.6 1002.4 1229.7 1004.3 1233.9 1006.5 1238.0 1009.0 1242.1 1011.6 1246.2 1014.3 1250.3 1016.9 1254.5 1019.3 1258.6 1021.5 1262.7 1023.7 1266.9 1025.8 1271.0 1027.8 1275.2 1029.8 1279.4 1031.7 1283.5 1033.4 1287.7 1035.0 1291.8 1036.5 1296.0 1038.1 1300.1 1039.7 1304.2 1041.6 1308.4 1043.8 1312.6 1046.3 1316.7 1048.9 1320.8 1051.5 1324.9 1054.1 1329.1 1056.5 1333.2 1058.7 1337.3 1060.9 1341.5 1063.0 1345.6 1065.0 1349.7 1067.0 1353.9 1069.0 1358.0 1071.0 1362.2 1072.9 1366.3 1074.8 1370.5 1076.6 1374.6 1078.4 1378.8 1080.1 1383.0 1081.7 1387.3 1083.1 1391.5 1084.5 1395.8 1085.8 1399.8 1087.3 1403.6 1088.8 1406.5 1090.2 1409.2 1091.7 1411.8 1093.2 1414.4 1094.7 1417.1 1096.3 1420.0 1097.8 1423.8 1099.7 1427.8 1101.8 1432.0 1103.9 1436.3 1105.8 1440.5 1107.7 1444.8 1109.2 1448.9 1110.4 1453.0 1111.4 1457.2 1112.3 1461.4 1113.0 1465.5 1113.7 1469.7 1114.2 1473.8 1114.7 1478.0 1115.0 1482.1 1115.3 1486.2 1115.4 1490.4 1115.5 1494.5 1115.4 1498.7 1115.3 1502.8 1115.1 1507.0 1114.8 1511.2 1114.4 1515.3 1113.8 1519.4 1112.9 1523.6 1111.8 1527.8 1110.4 1532.0 1108.9 1536.1 1107.1 1540.2 1105.1 1544.2 1103.0 1548.5 1100.4 1552.7 1097.5 1556.8 1094.3 1560.9 1091.0 1565.0 1087.7 1569.1 1084.3 1573.3 1080.8 1577.5 1077.2 1581.6 1073.5 1585.7 1069.7 1589.8 1065.9 1593.9 1062.0 1598.1 1057.9 1602.3 1053.7 1606.5 1049.5 1610.7 1045.1 1614.8 1040.6 1618.8 1035.9 1623.2 1030.4 1627.6 1024.5 1631.9 1018.4 1636.1 1012.4 1640.0 1006.5 1643.6 1001.1 1646.0 997.4 1648.2 994.0 1650.2 990.8 1652.2 987.4 1654.1 983.9 1656.0 980.0 1658.5 974.2 1660.9 967.7 1663.2 960.8 1665.5 953.9 1667.9 947.1 1670.4 940.7 1672.8 935.3 1675.4 930.0 1678.0 924.9 1680.6 919.9 1683.1 914.8 1685.3 909.7 1687.2 904.7 1688.8 899.6 1690.3 894.5 1691.8 889.5 1693.5 884.6 1695.4 880.0 1697.4 876.3 1699.6 873.0 1701.9 869.9 1704.3 866.6 1706.7 862.8 1709.2 858.2 1714.5 845.9 1720.2 830.6 1726.2 813.2 1732.2 794.7 1738.2 776.2 1744.0 758.8 1749.6 741.3 1755.3 722.8 1760.8 704.2 1766.3 686.7 1771.5 671.4 1776.3 659.4 1778.4 655.2 1780.4 651.8 1782.4 648.9 1784.4 646.2 1786.4 643.3 1788.4 640.0 1791.1 635.4 1793.8 630.5 1796.6 625.4 1799.4 620.1 1802.0 614.6 1804.3 608.9 1806.7 601.9 1808.7 594.6 1810.6 587.0 1812.3 579.1 1814.1 571.1 1816.0 563.0 1818.2 553.4 1820.5 543.4 1822.7 533.1 1825.0 522.8 1827.3 512.8 1829.7 503.3 1831.8 495.7 1834.0 488.6 1836.2 481.8 1838.5 474.7 1840.8 467.2 1843.1 458.8 1846.7 444.1 1850.4 427.3 1854.1 409.3 1857.9 391.3 1861.7 374.3 1865.5 359.4 1868.1 350.4 1870.6 342.2 1873.2 334.4 1875.7 327.0 1878.3 319.6 1881.0 312.0 1883.7 304.6 1886.4 297.2 1889.2 289.9 1892.0 282.7 1894.8 275.4 1897.6 268.1"/>
<path stroke="#2AB06C" d="M277.1 20.0L277.2 25.6 277.4 31.0 277.5 36.4 277.6 42.1 277.8 48.2 278.0 55.0 278.4 68.1 278.9 83.0 279.4 99.3 280.0 116.1 280.6 132.9 281.2 149.0 281.7 164.2 282.3 179.3 282.8 194.4 283.4 209.4 284.1 224.6 284.8 240.0 285.7 256.3 286.8 272.9 287.8 289.5 289.0 306.2 290.1 322.7 291.3 339.0 292.4 354.7 293.5 370.6 294.6 386.4 295.8 401.8 296.9 416.4 298.1 430.0 298.9 439.2 299.7 447.8 300.6 456.0 301.4 463.9 302.2 471.9 303.0 480.0 303.8 488.2 304.6 496.4 305.3 504.5 306.1 512.6 306.8 520.8 307.6 529.0 308.3 537.4 309.1 545.8 309.9 554.3 310.6 562.7 311.4 570.9 312.2 579.0 312.9 586.0 313.6 592.8 314.4 599.5 315.1 606.2 315.9 613.0 316.7 620.0 317.7 628.1 318.7 636.3 319.7 644.7 320.8 653.2 322.0 661.6 323.2 670.0 324.5 678.2 325.8 686.4 327.2 694.5 328.7 702.7 330.3 710.8 331.9 719.0 333.6 727.3 335.5 735.7 337.4 744.0 339.4 752.3 341.4 760.7 343.4 769.0 345.4 777.3 347.2 785.5 349.1 793.8 351.1 802.0 353.3 810.4 355.7 819.0 359.0 828.9 362.8 839.1 366.9 849.5 370.9 859.9 374.7 870.1 378.0 880.0 380.4 888.6 382.5 897.0 384.5 905.3 386.3 913.5 388.1 921.7 390.0 930.0 391.9 938.2 393.7 946.4 395.5 954.6 397.5 962.7 399.6 970.9 402.0 979.0 404.9 987.5 408.0 996.0 411.4 1004.5 414.9 1012.9 418.4 1021.1 422.0 1029.0 425.2 1036.0 428.5 1042.8 431.8 1049.5 435.1 1056.0 438.6 1062.1 442.0 1068.0 444.9 1072.7 447.6 1077.2 450.5 1081.4 453.4 1085.5 456.6 1089.4 460.0 1093.0 463.7 1096.3 467.7 1099.4 471.9 1102.3 476.1 1105.0 480.5 1107.5 484.8 1109.7 488.9 1111.6 493.0 1113.3 497.1 1114.8 501.3 1116.1 505.5 1117.3 509.7 1118.4 513.8 1119.3 517.9 1120.1 522.1 1120.8 526.2 1121.3 530.3 1121.8 534.5 1122.1 538.6 1122.4 542.8 1122.6 547.0 1122.6 551.1 1122.6 555.3 1122.4 559.4 1122.1 563.6 1121.6 567.7 1120.9 571.8 1120.1 576.0 1119.1 580.1 1118.1 584.2 1117.1 588.4 1116.0 592.5 1114.9 596.7 1113.7 600.8 1112.4 605.0 1111.1 609.1 1109.7 613.3 1108.2 617.4 1106.6 621.5 1105.0 625.7 1103.3 629.8 1101.5 633.9 1099.8 638.0 1098.0 642.1 1096.1 646.1 1094.1 650.2 1092.2 654.4 1090.3 658.8 1088.6 664.0 1086.9 669.6 1085.3 675.3 1083.8 680.8 1082.4 685.8 1081.0 690.0 1079.5 692.0 1078.7 693.6 1077.9 695.0 1077.1 696.5 1076.3 698.1 1075.4 700.0 1074.3 704.4 1072.0 709.6 1069.2 715.2 1066.1 721.2 1062.8 727.1 1059.5 732.8 1056.3 738.3 1053.1 743.8 1049.9 749.2 1046.6 754.7 1043.3 760.2 1040.0 765.6 1036.6 771.1 1033.1 776.6 1029.6 782.0 1026.0 787.5 1022.4 792.9 1018.8 798.4 1015.3 803.9 1011.8 809.4 1008.2 814.9 1004.7 820.4 1001.2 825.9 997.9 831.3 994.8 836.1 992.2 840.8 989.9 845.4 987.6 850.2 985.4 855.0 983.2 860.0 980.8 866.1 977.8 872.4 974.8 878.9 971.6 885.6 968.5 892.2 965.3 898.8 962.2 905.7 958.9 912.8 955.5 919.9 952.1 926.9 948.8 933.7 945.9 940.0 943.3 944.4 941.7 948.7 940.3 952.7 939.1 956.7 938.0 960.7 936.9 964.8 935.8 968.9 934.7 973.1 933.5 977.2 932.4 981.4 931.4 985.5 930.4 989.7 929.6 993.8 928.9 997.9 928.3 1002.1 927.7 1006.2 927.3 1010.4 926.9 1014.5 926.5 1018.8 926.2 1023.2 926.0 1027.7 925.9 1031.9 925.8 1035.9 925.6 1039.4 925.3 1041.3 925.1 1043.1 924.9 1044.7 924.7 1046.3 924.4 1047.8 924.0 1049.3 923.4 1050.9 922.6 1052.4 921.6 1053.8 920.5 1055.3 919.3 1056.7 918.2 1058.0 917.2 1059.1 916.4 1060.0 915.6 1061.0 914.8 1061.9 914.1 1063.0 913.4 1064.2 912.9 1066.0 912.4 1068.0 912.1 1070.1 912.0 1072.3 912.0 1074.5 912.1 1076.6 912.2 1078.6 912.4 1080.6 912.7 1082.6 913.1 1084.6 913.6 1086.8 914.1 1089.1 914.7 1092.8 915.7 1096.8 916.9 1101.0 918.2 1105.3 919.6 1109.7 921.0 1113.9 922.2 1118.0 923.3 1122.2 924.3 1126.4 925.2 1130.5 926.2 1134.7 927.2 1138.8 928.4 1143.0 929.7 1147.3 931.1 1151.6 932.6 1155.8 934.1 1159.8 935.6 1163.6 937.1 1166.5 938.3 1169.2 939.6 1171.8 940.8 1174.4 942.0 1177.1 943.3 1180.0 944.5 1183.8 945.9 1187.9 947.3 1192.1 948.7 1196.4 950.1 1200.7 951.7 1204.8 953.4 1209.0 955.4 1213.2 957.7 1217.3 960.0 1221.4 962.5 1225.5 964.8 1229.7 967.1 1233.8 969.2 1238.0 971.2 1242.1 973.2 1246.3 975.2 1250.4 977.3 1254.5 979.5 1258.8 981.9 1263.2 984.3 1267.6 986.8 1271.8 989.4 1275.8 991.9 1279.4 994.4 1281.8 996.3 1284.0 998.1 1286.0 999.9 1287.9 1001.7 1289.8 1003.6 1291.8 1005.6 1294.0 1007.8 1296.2 1010.1 1298.4 1012.4 1300.5 1014.8 1302.4 1017.1 1304.2 1019.3 1305.4 1021.0 1306.5 1022.8 1307.4 1024.6 1308.3 1026.2 1309.3 1027.8 1310.4 1029.2 1311.3 1030.2 1312.3 1031.0 1313.3 1031.8 1314.3 1032.6 1315.4 1033.3 1316.6 1034.2 1318.4 1035.5 1320.2 1037.0 1322.2 1038.4 1324.4 1039.9 1326.7 1041.4 1329.1 1042.9 1332.7 1044.8 1336.7 1046.6 1340.9 1048.4 1345.3 1050.2 1349.7 1052.1 1353.9 1054.0 1358.1 1056.0 1362.2 1058.2 1366.3 1060.3 1370.5 1062.5 1374.6 1064.5 1378.8 1066.5 1383.0 1068.3 1387.2 1070.0 1391.5 1071.7 1395.7 1073.3 1399.8 1074.9 1403.6 1076.4 1406.5 1077.6 1409.2 1078.8 1411.8 1080.0 1414.4 1081.2 1417.1 1082.3 1420.0 1083.5 1423.8 1085.0 1427.8 1086.5 1432.0 1088.0 1436.3 1089.5 1440.6 1090.8 1444.8 1091.8 1448.9 1092.6 1453.1 1093.2 1457.2 1093.7 1461.4 1094.0 1465.5 1094.2 1469.7 1094.3 1473.8 1094.2 1478.0 1094.0 1482.1 1093.6 1486.3 1093.1 1490.4 1092.5 1494.5 1091.8 1498.7 1091.1 1502.9 1090.3 1507.0 1089.3 1511.2 1088.3 1515.3 1087.1 1519.4 1085.6 1523.6 1083.8 1527.8 1081.8 1532.0 1079.6 1536.1 1077.2 1540.2 1074.6 1544.2 1071.9 1548.5 1068.7 1552.7 1065.1 1556.8 1061.4 1560.9 1057.5 1565.0 1053.5 1569.1 1049.6 1573.3 1045.5 1577.4 1041.3 1581.5 1037.1 1585.6 1032.8 1589.7 1028.7 1593.9 1024.7 1598.1 1021.0 1602.5 1017.3 1606.9 1013.7 1611.1 1010.2 1615.2 1006.8 1618.8 1003.6 1621.2 1001.4 1623.5 999.3 1625.6 997.3 1627.6 995.3 1629.4 993.3 1631.2 991.2 1632.6 989.4 1633.9 987.7 1635.1 986.0 1636.3 984.2 1637.4 982.2 1638.6 980.0 1640.2 976.3 1641.7 972.1 1643.2 967.6 1644.7 962.9 1646.3 958.0 1648.1 953.2 1650.5 947.3 1653.0 941.2 1655.7 934.9 1658.5 928.5 1661.3 922.2 1664.2 915.9 1667.2 909.5 1670.3 903.0 1673.4 896.5 1676.6 890.1 1679.8 884.1 1682.9 878.6 1685.2 875.0 1687.5 871.9 1689.8 869.1 1692.0 866.1 1694.4 862.6 1696.8 858.2 1702.1 846.2 1707.8 831.1 1713.7 813.9 1719.7 795.5 1725.7 776.8 1731.6 758.8 1738.1 738.8 1745.0 717.2 1751.8 695.3 1758.3 674.3 1764.1 655.5 1769.0 640.0 1771.0 633.7 1772.7 628.4 1774.3 623.6 1775.8 619.0 1777.3 614.3 1779.0 608.9 1781.2 601.6 1783.5 594.1 1785.8 586.2 1788.3 578.0 1790.9 569.3 1793.7 560.0 1798.4 545.2 1803.7 529.0 1809.4 511.7 1815.2 493.9 1820.7 476.1 1825.7 458.8 1830.0 442.2 1833.8 425.6 1837.5 409.0 1841.1 392.5 1845.0 375.9 1849.3 359.4 1854.3 342.4 1859.9 325.0 1865.7 307.6 1871.4 290.7 1876.8 274.7 1881.6 260.0 1884.6 250.4 1887.4 241.4 1890.0 233.0 1892.5 224.7 1895.0 216.5 1897.6 208.0"/>
<path stroke="#9E6FC8" d="M278.5 20.0L278.6 25.6 278.8 31.0 278.9 36.4 279.0 42.1 279.2 48.2 279.4 55.0 279.8 68.1 280.4 83.0 281.0 99.3 281.6 116.1 282.3 132.9 282.9 149.0 283.5 164.2 284.0 179.3 284.6 194.4 285.2 209.4 285.8 224.6 286.6 240.0 287.5 256.3 288.6 272.9 289.7 289.5 290.9 306.2 292.1 322.7 293.3 339.0 294.5 354.7 295.7 370.6 296.9 386.4 298.1 401.8 299.4 416.4 300.6 430.0 301.4 439.2 302.2 447.8 303.1 456.0 303.9 463.9 304.7 471.9 305.5 480.0 306.3 488.2 307.1 496.4 307.9 504.5 308.7 512.6 309.5 520.8 310.3 529.0 311.1 537.4 311.9 545.8 312.7 554.3 313.5 562.7 314.4 571.0 315.2 579.0 316.0 586.0 316.7 592.8 317.5 599.5 318.3 606.2 319.2 613.0 320.1 620.0 321.2 628.1 322.2 636.3 323.4 644.7 324.6 653.2 325.9 661.7 327.2 670.0 328.6 678.2 330.1 686.4 331.6 694.5 333.3 702.7 335.0 710.8 336.8 719.0 338.7 727.3 340.8 735.7 343.0 744.0 345.2 752.3 347.4 760.7 349.7 769.0 351.9 777.3 354.2 785.5 356.4 793.7 358.8 802.0 361.2 810.4 363.7 819.0 366.8 828.9 370.1 839.1 373.6 849.5 377.0 859.9 380.2 870.1 383.0 880.0 385.2 888.6 387.1 897.0 388.8 905.3 390.5 913.5 392.2 921.8 394.0 930.0 395.8 938.2 397.6 946.4 399.4 954.6 401.4 962.7 403.5 970.9 406.0 979.0 409.0 987.5 412.3 996.0 415.9 1004.5 419.7 1012.9 423.4 1021.1 427.0 1029.0 430.1 1036.1 433.2 1043.2 436.4 1050.2 439.5 1056.8 442.7 1062.8 446.0 1068.0 448.2 1070.9 450.4 1073.4 452.6 1075.6 454.9 1077.6 457.4 1079.7 460.0 1082.0 463.6 1085.2 467.6 1088.6 471.7 1092.1 476.0 1095.5 480.4 1098.5 484.8 1101.0 488.8 1102.8 492.9 1104.3 497.1 1105.6 501.3 1106.6 505.5 1107.6 509.7 1108.4 513.8 1109.1 517.9 1109.7 522.1 1110.2 526.2 1110.5 530.4 1110.8 534.5 1110.9 538.6 1111.0 542.8 1110.9 547.0 1110.8 551.1 1110.5 555.3 1110.2 559.4 1109.7 563.6 1109.1 567.7 1108.4 571.8 1107.6 576.0 1106.7 580.1 1105.8 584.2 1104.7 588.4 1103.5 592.5 1102.3 596.7 1100.9 600.8 1099.5 605.0 1098.0 609.1 1096.5 613.3 1094.9 617.4 1093.2 621.5 1091.4 625.7 1089.6 629.8 1087.8 633.9 1086.0 638.0 1084.2 642.1 1082.4 646.2 1080.6 650.3 1078.7 654.5 1076.7 658.8 1074.5 664.0 1071.7 669.6 1068.5 675.3 1065.1 680.8 1061.8 685.8 1058.9 690.0 1056.5 691.9 1055.5 693.5 1054.7 695.0 1054.0 696.5 1053.2 698.1 1052.4 700.0 1051.4 704.4 1049.0 709.5 1046.0 715.2 1042.7 721.2 1039.2 727.1 1035.7 732.8 1032.5 738.3 1029.5 743.7 1026.5 749.2 1023.5 754.7 1020.6 760.2 1017.6 765.6 1014.5 771.1 1011.3 776.7 1007.9 782.3 1004.6 787.8 1001.2 793.2 997.9 798.4 994.8 802.7 992.3 806.9 989.9 810.9 987.5 814.9 985.1 819.0 982.7 823.0 980.0 827.2 976.8 831.3 973.4 835.4 969.9 839.6 966.4 844.1 963.0 849.1 959.8 856.4 956.1 864.5 952.6 873.1 949.3 881.9 946.2 890.6 943.0 898.8 939.9 906.0 937.0 913.2 933.9 920.2 931.0 927.1 928.1 933.7 925.6 940.0 923.4 944.5 922.1 948.7 920.9 952.7 920.0 956.7 919.1 960.7 918.2 964.8 917.2 968.9 916.1 973.1 915.0 977.2 913.9 981.4 912.8 985.5 911.9 989.7 911.0 993.8 910.3 997.9 909.7 1002.1 909.2 1006.2 908.7 1010.4 908.3 1014.5 907.9 1018.6 907.5 1022.8 907.2 1026.9 907.0 1031.1 906.8 1035.3 906.6 1039.4 906.6 1043.5 906.6 1047.7 906.8 1051.8 907.0 1055.9 907.2 1060.1 907.6 1064.2 907.9 1068.4 908.3 1072.5 908.7 1076.7 909.2 1080.8 909.8 1085.0 910.4 1089.1 911.0 1093.2 911.7 1097.4 912.4 1101.5 913.2 1105.7 914.1 1109.8 915.0 1113.9 916.0 1118.1 917.1 1122.2 918.3 1126.4 919.5 1130.5 920.8 1134.7 922.1 1138.8 923.4 1143.0 924.7 1147.3 925.9 1151.5 927.2 1155.7 928.5 1159.8 929.7 1163.6 930.9 1166.5 931.8 1169.2 932.6 1171.8 933.3 1174.4 934.1 1177.1 935.0 1180.0 936.0 1183.9 937.4 1187.9 939.0 1192.1 940.8 1196.3 942.5 1200.6 944.3 1204.8 946.0 1209.0 947.6 1213.1 949.1 1217.3 950.6 1221.5 952.2 1225.6 953.9 1229.7 955.9 1233.9 958.2 1238.1 960.8 1242.2 963.6 1246.3 966.4 1250.4 969.2 1254.5 972.0 1258.6 974.7 1262.8 977.4 1266.9 980.2 1271.1 982.9 1275.2 985.6 1279.4 988.2 1283.5 990.8 1287.6 993.3 1291.7 995.9 1295.9 998.3 1300.0 1000.8 1304.2 1003.1 1308.3 1005.3 1312.5 1007.4 1316.6 1009.4 1320.8 1011.4 1324.9 1013.5 1329.1 1015.5 1333.2 1017.6 1337.4 1019.7 1341.5 1021.8 1345.6 1023.8 1349.8 1025.9 1353.9 1028.0 1358.0 1030.1 1362.2 1032.2 1366.3 1034.4 1370.5 1036.4 1374.6 1038.5 1378.8 1040.4 1383.0 1042.2 1387.2 1044.0 1391.5 1045.7 1395.7 1047.3 1399.7 1048.9 1403.6 1050.3 1406.5 1051.4 1409.2 1052.3 1411.8 1053.3 1414.4 1054.1 1417.1 1055.0 1420.0 1055.8 1423.8 1056.8 1427.9 1057.8 1432.0 1058.7 1436.3 1059.5 1440.6 1060.2 1444.8 1060.7 1448.9 1061.0 1453.1 1061.2 1457.2 1061.3 1461.4 1061.2 1465.6 1061.0 1469.7 1060.7 1473.9 1060.2 1478.0 1059.6 1482.2 1058.9 1486.3 1058.0 1490.4 1056.9 1494.5 1055.8 1498.7 1054.4 1502.9 1052.9 1507.0 1051.3 1511.2 1049.5 1515.3 1047.7 1519.4 1045.8 1523.6 1044.0 1527.8 1042.2 1532.0 1040.4 1536.2 1038.4 1540.3 1036.1 1544.2 1033.4 1548.7 1029.4 1553.1 1024.5 1557.4 1019.3 1561.6 1014.0 1565.5 1009.0 1569.1 1004.8 1571.4 1002.4 1573.5 1000.3 1575.6 998.3 1577.6 996.3 1579.5 994.4 1581.5 992.4 1583.4 990.4 1585.4 988.4 1587.3 986.3 1589.1 984.3 1591.0 982.2 1592.7 980.0 1594.3 977.8 1595.8 975.5 1597.2 973.2 1598.6 970.8 1600.2 968.3 1602.1 965.6 1605.6 961.0 1609.8 955.9 1614.4 950.5 1619.0 945.0 1623.3 939.6 1627.0 934.5 1629.5 930.7 1631.7 927.0 1633.7 923.4 1635.6 919.8 1637.5 916.1 1639.4 912.2 1641.5 907.8 1643.6 903.3 1645.6 898.6 1647.7 893.9 1649.7 889.3 1651.8 884.8 1653.8 880.8 1655.7 877.1 1657.7 873.4 1659.7 869.5 1661.8 865.1 1664.2 860.0 1669.7 846.8 1676.1 830.2 1683.0 811.7 1690.1 792.8 1697.1 774.9 1703.4 759.4 1707.6 750.1 1711.7 741.5 1715.7 733.5 1719.6 725.7 1723.4 717.8 1727.0 709.7 1730.5 701.2 1734.0 692.4 1737.4 683.5 1740.6 675.0 1743.4 667.0 1745.7 660.0 1746.8 656.3 1747.7 653.2 1748.4 650.3 1749.1 647.3 1749.9 644.0 1751.0 640.0 1754.0 630.3 1757.6 619.0 1761.8 606.2 1766.3 592.0 1771.1 576.6 1776.0 560.0 1785.4 525.5 1796.1 484.2 1807.5 439.0 1819.1 392.7 1830.6 348.2 1841.3 308.4 1849.1 281.0 1856.8 255.2 1864.3 230.4 1871.7 206.3 1879.1 182.1 1886.6 157.4"/>
<path stroke="#C9A80F" d="M279.2 20.0L279.3 25.6 279.5 31.0 279.6 36.4 279.7 42.1 279.9 48.2 280.1 55.0 280.6 68.1 281.1 83.0 281.8 99.3 282.5 116.1 283.1 132.9 283.8 149.0 284.4 164.2 284.9 179.3 285.5 194.4 286.1 209.4 286.7 224.6 287.5 240.0 288.4 256.3 289.5 272.9 290.6 289.5 291.8 306.2 293.1 322.7 294.3 339.0 295.5 354.7 296.8 370.6 298.0 386.4 299.3 401.8 300.6 416.4 301.8 430.0 302.7 439.2 303.5 447.8 304.3 456.0 305.2 463.9 306.0 471.9 306.8 480.0 307.6 488.2 308.4 496.4 309.2 504.5 310.1 512.6 310.9 520.8 311.7 529.0 312.5 537.4 313.3 545.8 314.2 554.3 315.0 562.7 315.8 571.0 316.7 579.0 317.5 586.0 318.3 592.8 319.1 599.5 320.0 606.2 320.9 613.0 321.8 620.0 322.9 628.1 324.0 636.3 325.2 644.7 326.5 653.2 327.8 661.7 329.2 670.0 330.7 678.2 332.2 686.4 333.8 694.5 335.5 702.7 337.3 710.8 339.2 719.0 341.3 727.3 343.4 735.7 345.7 744.0 348.0 752.3 350.4 760.7 352.8 769.0 355.2 777.3 357.6 785.5 360.0 793.7 362.4 802.0 365.0 810.4 367.7 819.0 371.0 828.9 374.6 839.1 378.3 849.5 381.9 859.8 385.2 870.1 388.0 880.0 389.9 888.6 391.4 897.0 392.7 905.3 393.9 913.6 395.3 921.8 397.0 930.0 399.0 938.2 401.0 946.4 403.2 954.6 405.6 962.8 408.2 970.9 411.0 979.0 414.2 987.5 417.8 996.2 421.6 1004.8 425.5 1013.3 429.3 1021.4 433.0 1029.0 435.9 1034.8 438.8 1040.6 441.7 1046.1 444.5 1051.2 447.3 1055.9 450.0 1060.0 451.6 1062.3 453.2 1064.2 454.7 1066.0 456.2 1067.7 458.0 1069.4 460.0 1071.2 463.4 1074.1 467.3 1077.2 471.5 1080.4 475.9 1083.5 480.4 1086.2 484.8 1088.6 488.8 1090.4 492.9 1091.8 497.1 1093.0 501.3 1094.1 505.5 1095.1 509.7 1096.0 513.8 1096.9 517.9 1097.7 522.1 1098.4 526.2 1098.9 530.4 1099.4 534.5 1099.8 538.6 1100.1 542.8 1100.3 547.0 1100.4 551.1 1100.4 555.3 1100.2 559.4 1099.8 563.6 1099.1 567.7 1098.3 571.8 1097.2 576.0 1096.0 580.1 1094.8 584.2 1093.5 588.4 1092.2 592.5 1090.9 596.7 1089.4 600.8 1088.0 605.0 1086.4 609.1 1084.8 613.3 1083.1 617.4 1081.3 621.5 1079.5 625.7 1077.6 629.8 1075.6 633.9 1073.7 638.0 1071.8 642.2 1069.8 646.3 1067.9 650.4 1065.8 654.6 1063.6 658.8 1061.2 664.1 1057.9 669.7 1054.2 675.3 1050.3 680.8 1046.4 685.8 1042.9 690.0 1040.0 691.9 1038.7 693.5 1037.6 695.0 1036.7 696.5 1035.7 698.1 1034.6 700.0 1033.3 704.4 1030.2 709.5 1026.4 715.2 1022.2 721.1 1017.8 727.1 1013.5 732.8 1009.5 738.4 1005.7 744.3 1001.9 750.1 998.1 755.8 994.5 761.0 991.2 765.6 988.2 768.0 986.7 770.1 985.4 772.0 984.2 773.9 982.9 775.9 981.6 778.0 980.0 781.1 977.3 784.3 974.2 787.6 970.8 791.2 967.4 795.0 964.1 799.4 961.0 806.3 957.3 814.2 953.8 822.8 950.5 831.6 947.4 840.5 944.3 849.1 941.1 857.4 938.0 865.9 934.9 874.3 931.9 882.6 928.9 890.8 925.7 898.8 922.5 906.0 919.2 913.2 915.5 920.3 911.9 927.1 908.3 933.7 905.3 940.0 902.9 944.4 901.7 948.6 900.9 952.7 900.4 956.7 899.9 960.7 899.4 964.8 898.6 969.0 897.6 973.1 896.3 977.2 895.1 981.4 893.8 985.5 892.7 989.7 891.7 993.8 890.9 997.9 890.3 1002.1 889.8 1006.2 889.4 1010.4 889.0 1014.5 888.6 1018.6 888.3 1022.8 888.0 1026.9 887.7 1031.1 887.6 1035.3 887.4 1039.4 887.4 1043.5 887.5 1047.7 887.6 1051.8 887.8 1055.9 888.1 1060.1 888.3 1064.2 888.6 1068.3 888.9 1072.5 889.1 1076.7 889.4 1080.8 889.8 1085.0 890.1 1089.1 890.5 1093.2 890.9 1097.4 891.4 1101.5 891.9 1105.6 892.4 1109.8 893.0 1113.9 893.6 1118.1 894.3 1122.2 895.0 1126.4 895.8 1130.5 896.7 1134.7 897.6 1138.8 898.6 1143.0 899.6 1147.3 900.7 1151.6 901.8 1155.8 903.0 1159.8 904.4 1163.6 906.0 1166.6 907.6 1169.3 909.5 1171.8 911.4 1174.4 913.4 1177.1 915.4 1180.0 917.3 1183.8 919.4 1187.8 921.5 1192.0 923.5 1196.3 925.6 1200.6 927.7 1204.8 929.8 1209.0 932.0 1213.1 934.2 1217.3 936.5 1221.4 938.8 1225.6 941.1 1229.7 943.5 1233.9 945.9 1238.0 948.4 1242.1 950.9 1246.2 953.4 1250.4 955.9 1254.5 958.4 1258.6 960.9 1262.8 963.4 1266.9 965.8 1271.1 968.3 1275.3 970.8 1279.4 973.3 1283.5 975.8 1287.7 978.3 1291.8 980.8 1295.9 983.3 1300.0 985.8 1304.2 988.2 1308.3 990.5 1312.5 992.8 1316.6 995.1 1320.8 997.4 1324.9 999.6 1329.1 1001.9 1333.2 1004.2 1337.4 1006.5 1341.5 1008.8 1345.6 1011.0 1349.8 1013.3 1353.9 1015.5 1358.0 1017.7 1362.2 1019.8 1366.3 1021.9 1370.5 1024.0 1374.6 1026.0 1378.8 1028.0 1383.0 1030.0 1387.2 1032.0 1391.5 1033.9 1395.7 1035.8 1399.7 1037.5 1403.6 1039.1 1406.5 1040.2 1409.2 1041.2 1411.8 1042.1 1414.4 1043.0 1417.1 1043.8 1420.0 1044.6 1423.8 1045.6 1427.9 1046.6 1432.0 1047.5 1436.3 1048.3 1440.6 1049.0 1444.8 1049.6 1448.9 1050.0 1453.1 1050.3 1457.2 1050.5 1461.4 1050.5 1465.6 1050.4 1469.7 1050.2 1473.9 1049.8 1478.3 1049.2 1482.7 1048.5 1486.9 1047.7 1490.9 1046.7 1494.5 1045.8 1496.9 1045.1 1499.0 1044.3 1501.1 1043.5 1503.0 1042.7 1505.0 1041.8 1507.0 1040.9 1509.0 1040.0 1511.0 1039.1 1513.0 1038.2 1515.0 1037.1 1517.1 1036.0 1519.4 1034.7 1523.2 1032.4 1527.5 1029.6 1531.9 1026.5 1536.4 1023.4 1540.5 1020.2 1544.2 1017.3 1546.6 1015.2 1548.8 1013.1 1550.8 1011.1 1552.7 1009.1 1554.6 1007.0 1556.6 1004.8 1558.8 1002.4 1560.9 999.9 1563.1 997.3 1565.2 994.7 1567.2 992.2 1569.1 989.9 1570.4 988.2 1571.7 986.6 1572.8 985.1 1574.0 983.5 1575.2 981.9 1576.5 980.0 1578.5 977.1 1580.5 974.0 1582.7 970.7 1584.9 967.2 1587.3 963.4 1589.7 959.4 1593.4 952.9 1597.3 945.5 1601.4 937.6 1605.7 929.7 1610.1 922.4 1614.5 915.9 1618.2 911.6 1622.1 907.8 1626.0 904.3 1629.9 900.9 1633.6 897.4 1636.9 893.5 1639.9 889.0 1642.7 884.0 1645.2 878.9 1647.6 874.0 1649.8 869.7 1651.8 866.2 1652.7 865.0 1653.5 864.1 1654.3 863.4 1655.1 862.6 1655.9 861.5 1656.8 860.0 1661.1 850.3 1666.5 835.4 1672.6 817.1 1679.1 797.2 1685.7 777.2 1692.0 759.0 1698.1 742.3 1704.4 725.6 1710.8 709.0 1717.1 692.3 1723.2 675.7 1729.0 659.0 1734.3 643.1 1739.1 627.7 1743.8 612.4 1748.5 596.4 1753.5 579.2 1759.0 560.0 1769.0 524.7 1780.1 484.6 1791.9 441.3 1804.0 396.3 1816.2 351.4 1828.0 308.0 1840.5 262.3 1854.1 212.3 1867.8 162.3 1880.3 116.6 1890.4 79.4 1897.0 55.0 1898.0 51.4 1898.7 48.7 1899.3 46.4 1899.9 44.3 1900.4 42.3 1901.0 40.0"/>
</g>
<g stroke="#000" stroke-width="4.8" fill="none" stroke-linecap="square">
<rect x="265.0" y="55.0" width="1632.5" height="1317.0"/>
<line x1="238" y1="55.0" x2="265.0" y2="55.0" stroke-linecap="butt"/>
<line x1="238" y1="243.1" x2="265.0" y2="243.1" stroke-linecap="butt"/>
<line x1="238" y1="431.3" x2="265.0" y2="431.3" stroke-linecap="butt"/>
<line x1="238" y1="619.4" x2="265.0" y2="619.4" stroke-linecap="butt"/>
<line x1="238" y1="807.6" x2="265.0" y2="807.6" stroke-linecap="butt"/>
<line x1="238" y1="995.7" x2="265.0" y2="995.7" stroke-linecap="butt"/>
<line x1="238" y1="1183.9" x2="265.0" y2="1183.9" stroke-linecap="butt"/>
<line x1="238" y1="1372.0" x2="265.0" y2="1372.0" stroke-linecap="butt"/>
<line x1="265.0" y1="1372.0" x2="265.0" y2="1399" stroke-linecap="butt"/>
<line x1="498.2" y1="1372.0" x2="498.2" y2="1399" stroke-linecap="butt"/>
<line x1="731.4" y1="1372.0" x2="731.4" y2="1399" stroke-linecap="butt"/>
<line x1="964.6" y1="1372.0" x2="964.6" y2="1399" stroke-linecap="butt"/>
<line x1="1197.9" y1="1372.0" x2="1197.9" y2="1399" stroke-linecap="butt"/>
<line x1="1431.1" y1="1372.0" x2="1431.1" y2="1399" stroke-linecap="butt"/>
<line x1="1664.3" y1="1372.0" x2="1664.3" y2="1399" stroke-linecap="butt"/>
<line x1="1897.5" y1="1372.0" x2="1897.5" y2="1399" stroke-linecap="butt"/>
</g>
<g font-family="'Liberation Sans', Arial, Helvetica, sans-serif" fill="#000">
<text transform="translate(220.0,72.0) scale(1,1.04)" font-size="61" text-anchor="end">0.50</text>
<text transform="translate(220.0,260.1) scale(1,1.04)" font-size="61" text-anchor="end">0.45</text>
<text transform="translate(220.0,448.3) scale(1,1.04)" font-size="61" text-anchor="end">0.40</text>
<text transform="translate(220.0,636.4) scale(1,1.04)" font-size="61" text-anchor="end">0.35</text>
<text transform="translate(220.0,824.6) scale(1,1.04)" font-size="61" text-anchor="end">0.30</text>
<text transform="translate(220.0,1012.7) scale(1,1.04)" font-size="61" text-anchor="end">0.25</text>
<text transform="translate(220.0,1200.9) scale(1,1.04)" font-size="61" text-anchor="end">0.20</text>
<text transform="translate(220.0,1389.0) scale(1,1.04)" font-size="61" text-anchor="end">0.15</text>
<text transform="translate(263.8,1461.5) scale(1,1.04)" font-size="61" text-anchor="middle">0.0</text>
<text transform="translate(497.0,1461.5) scale(1,1.04)" font-size="61" text-anchor="middle">0.1</text>
<text transform="translate(730.2,1461.5) scale(1,1.04)" font-size="61" text-anchor="middle">0.2</text>
<text transform="translate(963.4,1461.5) scale(1,1.04)" font-size="61" text-anchor="middle">0.3</text>
<text transform="translate(1196.7,1461.5) scale(1,1.04)" font-size="61" text-anchor="middle">0.4</text>
<text transform="translate(1429.9,1461.5) scale(1,1.04)" font-size="61" text-anchor="middle">0.5</text>
<text transform="translate(1663.1,1461.5) scale(1,1.04)" font-size="61" text-anchor="middle">0.6</text>
<text transform="translate(1896.3,1461.5) scale(1,1.04)" font-size="61" text-anchor="middle">0.7</text>
<text transform="translate(79.5,700.5) rotate(-90)" font-size="75.5" text-anchor="middle">I/<tspan font-family="Liberation Serif, serif">&#956;</tspan>A</text>
<text transform="translate(1100.8,1573.5)" font-size="75" text-anchor="middle">E/V (vs. Ag/AgCl)</text>
<text transform="translate(589.5,670.8) scale(1,1.05)" font-size="69" text-anchor="middle">20 <tspan font-family="Liberation Serif, serif">&#956;</tspan>M</text>
<text transform="translate(589.5,979.0)" font-size="69.5" text-anchor="middle">0.4 <tspan font-family="Liberation Serif, serif">&#956;</tspan>M</text>
</g>
<g stroke="#000" stroke-width="5" fill="none"><line x1="581" y1="892" x2="581" y2="738"/><polyline points="564,778 581,736 598,778" stroke-linejoin="miter" stroke-miterlimit="10"/></g>
<rect x="913.0" y="113.0" width="716.0" height="571.0" fill="#fff" stroke="none"/>
<g stroke="#8a8a8a" stroke-width="1.7" fill="none">
<line x1="949.5" y1="609.6" x2="949.5" y2="637.2"/>
<line x1="942.5" y1="609.6" x2="956.5" y2="609.6"/>
<line x1="942.5" y1="637.2" x2="956.5" y2="637.2"/>
<line x1="1047.2" y1="524.6" x2="1047.2" y2="561.6"/>
<line x1="1040.2" y1="524.6" x2="1054.2" y2="524.6"/>
<line x1="1040.2" y1="561.6" x2="1054.2" y2="561.6"/>
<line x1="1092.0" y1="468.7" x2="1092.0" y2="517.7"/>
<line x1="1085.0" y1="468.7" x2="1099.0" y2="468.7"/>
<line x1="1085.0" y1="517.7" x2="1099.0" y2="517.7"/>
<line x1="1199.8" y1="440.3" x2="1199.8" y2="473.5"/>
<line x1="1192.8" y1="440.3" x2="1206.8" y2="440.3"/>
<line x1="1192.8" y1="473.5" x2="1206.8" y2="473.5"/>
<line x1="1342.2" y1="338.6" x2="1342.2" y2="432.6"/>
<line x1="1335.2" y1="338.6" x2="1349.2" y2="338.6"/>
<line x1="1335.2" y1="432.6" x2="1349.2" y2="432.6"/>
<line x1="1394.5" y1="316.3" x2="1394.5" y2="393.3"/>
<line x1="1387.5" y1="316.3" x2="1401.5" y2="316.3"/>
<line x1="1387.5" y1="393.3" x2="1401.5" y2="393.3"/>
<line x1="1513.0" y1="232.1" x2="1513.0" y2="348.1"/>
<line x1="1506.0" y1="232.1" x2="1520.0" y2="232.1"/>
<line x1="1506.0" y1="348.1" x2="1520.0" y2="348.1"/>
<line x1="1557.8" y1="213.8" x2="1557.8" y2="309.8"/>
<line x1="1550.8" y1="213.8" x2="1564.8" y2="213.8"/>
<line x1="1550.8" y1="309.8" x2="1564.8" y2="309.8"/>
</g>
<line x1="946.5" y1="613.6" x2="1551" y2="255.1" stroke="#E5505E" stroke-width="1.8"/>
<g fill="#000">
<circle cx="949.5" cy="623.4" r="9"/>
<circle cx="1047.2" cy="543.1" r="9"/>
<circle cx="1092.0" cy="493.2" r="9"/>
<circle cx="1199.8" cy="456.9" r="9"/>
<circle cx="1342.2" cy="385.6" r="9"/>
<circle cx="1394.5" cy="354.8" r="9"/>
<circle cx="1513.0" cy="290.1" r="9"/>
<circle cx="1557.8" cy="261.8" r="9"/>
</g>
<g stroke="#222" stroke-width="3" fill="none" stroke-linecap="square">
<rect x="913.0" y="113.0" width="716.0" height="571.0"/>
<line x1="903" y1="684.0" x2="913.0" y2="684.0" stroke-linecap="butt"/>
<line x1="903" y1="493.7" x2="913.0" y2="493.7" stroke-linecap="butt"/>
<line x1="903" y1="303.3" x2="913.0" y2="303.3" stroke-linecap="butt"/>
<line x1="903" y1="113.0" x2="913.0" y2="113.0" stroke-linecap="butt"/>
<line x1="913.0" y1="684.0" x2="913.0" y2="694.5" stroke-linecap="butt"/>
<line x1="1092.0" y1="684.0" x2="1092.0" y2="694.5" stroke-linecap="butt"/>
<line x1="1271.0" y1="684.0" x2="1271.0" y2="694.5" stroke-linecap="butt"/>
<line x1="1450.0" y1="684.0" x2="1450.0" y2="694.5" stroke-linecap="butt"/>
<line x1="1629.0" y1="684.0" x2="1629.0" y2="694.5" stroke-linecap="butt"/>
</g>
<g font-family="'Liberation Sans', Arial, Helvetica, sans-serif" fill="#000">
<text transform="translate(893.5,693.6) scale(1,1.05)" font-size="32.5" text-anchor="end">0.22</text>
<text transform="translate(893.5,503.3) scale(1,1.05)" font-size="32.5" text-anchor="end">0.24</text>
<text transform="translate(893.5,312.9) scale(1,1.05)" font-size="32.5" text-anchor="end">0.26</text>
<text transform="translate(893.5,122.6) scale(1,1.05)" font-size="32.5" text-anchor="end">0.28</text>
<text transform="translate(909.5,726.0) scale(1,1.05)" font-size="32.5" text-anchor="middle">&#8722;0.5</text>
<text transform="translate(1091.5,726.0) scale(1,1.05)" font-size="32.5" text-anchor="middle">0.0</text>
<text transform="translate(1270.5,726.0) scale(1,1.05)" font-size="32.5" text-anchor="middle">0.5</text>
<text transform="translate(1449.5,726.0) scale(1,1.05)" font-size="32.5" text-anchor="middle">1.0</text>
<text transform="translate(1628.5,726.0) scale(1,1.05)" font-size="32.5" text-anchor="middle">1.5</text>
<text transform="translate(835.5,387.5) rotate(-90)" font-size="49.5" text-anchor="middle">I/<tspan font-family="Liberation Serif, serif">&#956;</tspan>A</text>
<text transform="translate(1290.3,774.5) scale(1.06,1)" font-size="47" text-anchor="middle">Log[BPA]/<tspan font-family="Liberation Serif, serif">&#956;</tspan>M</text>
</g>
</svg>
</body></html>
